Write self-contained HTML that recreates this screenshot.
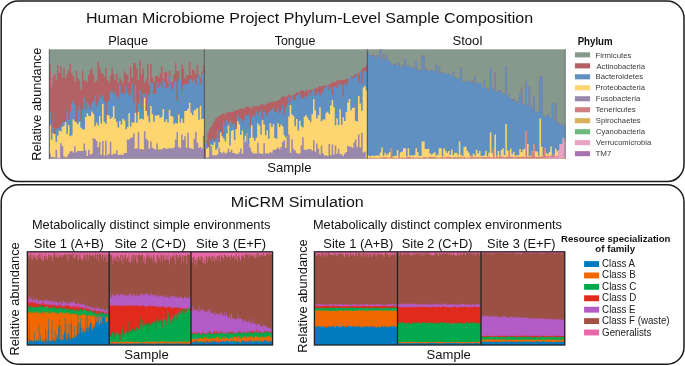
<!DOCTYPE html>
<html><head><meta charset="utf-8"><style>
html,body{margin:0;padding:0;background:#fff;width:685px;height:366px;overflow:hidden}
svg{display:block;will-change:transform}
text{font-family:"Liberation Sans",sans-serif}
</style></head><body>
<svg width="685" height="366" viewBox="0 0 685 366">
<rect width="685" height="366" fill="#fff"/>
<rect x="1.2" y="1.0" width="682.8" height="180.6" rx="17" ry="17" fill="none" stroke="#1a1a1a" stroke-width="1.5"/>
<rect x="1.2" y="184.7" width="682.8" height="179.6" rx="17" ry="17" fill="none" stroke="#1a1a1a" stroke-width="1.5"/>
<rect x="49.3" y="49.3" width="155.1" height="109.5" fill="#87988d"/>
<path d="M49.3 158.8V64.87H50.85V87.13H52.4V77.34H53.95V73.8H55.5V79.7H57.05V65.13H58.61V72.95H60.16V66.19H61.71V77.25H63.26V68.46H64.81V78.26H66.36V73.95H67.91V69.75H69.46V63.89H71.01V72.92H72.56V76.49H74.12V81.43H75.67V71.05H77.22V78.55H78.77V80.22H80.32V89.37H81.87V70.73H83.42V80.44H84.97V80.47H86.52V82.11H88.08V74.15H89.63V70.47H91.18V68.03H92.73V74.72H94.28V82.47H95.83V80.73H97.38V62.34H98.93V67.32H100.48V72.83H102.03V73.76H103.59V76.91H105.14V67.42H106.69V79.92H108.24V82.72H109.79V75.84H111.34V67.41H112.89V73.9H114.44V80.08H115.99V73.47H117.54V83.21H119.09V77.7H120.65V80.77H122.2V83.15H123.75V71.35H125.3V73.81H126.85V75.53H128.4V82.66H129.95V67.08H131.5V77.96H133.05V62.74H134.61V63.09H136.16V68.23H137.71V80.31H139.26V60.08H140.81V74.79H142.36V68.65H143.91V82.34H145.46V78.66H147.01V63.67H148.56V84.24H150.12V64.22H151.67V77.21H153.22V81.13H154.77V76.17H156.32V75.8H157.87V77.15H159.42V73.79H160.97V66.26H162.52V79.31H164.07V72.51H165.62V71.68H167.18V81.13H168.73V71.09H170.28V82.43H171.83V81.68H173.38V73.89H174.93V63.02H176.48V71.56H178.03V71.2H179.58V81.65H181.13V64.62H182.69V68.39H184.24V78.14H185.79V75.32H187.34V75.21H188.89V61.91H190.44V75.14H191.99V69.08H193.54V71.33H195.09V74.52H196.65V64.85H198.2V74.74H199.75V77.19H201.3V71.65H202.85V65.28H204.4V158.8 Z" fill="#b46165"/>
<path d="M49.3 158.8V111.63H50.85V124.06H52.4V127.46H53.95V134.07H55.5V128.05H57.05V128.92H58.61V127.44H60.16V125.6H61.71V122.89H63.26V121.12H64.81V122.08H66.36V110.79H67.91V119.17H69.46V112.34H71.01V103.68H72.56V101.11H74.12V104.42H75.67V122.26H77.22V110.64H78.77V106.31H80.32V120.74H81.87V109.64H83.42V97.35H84.97V109.15H86.52V102.35H88.08V105.31H89.63V108.47H91.18V103.27H92.73V101.46H94.28V95.68H95.83V105.58H97.38V101.13H98.93V95.01H100.48V98.51H102.03V95.45H103.59V100.64H105.14V120.08H106.69V102.05H108.24V99.73H109.79V91.85H111.34V90.77H112.89V94.15H114.44V92.74H115.99V96.37H117.54V98.89H119.09V84.79H120.65V93.37H122.2V92.55H123.75V94.17H125.3V86.34H126.85V92.22H128.4V95.82H129.95V95.06H131.5V83.92H133.05V102.52H134.61V84.4H136.16V114.96H137.71V102.88H139.26V90.14H140.81V108.24H142.36V93.76H143.91V93.87H145.46V110.91H147.01V93.7H148.56V95.4H150.12V82.77H151.67V83.34H153.22V94.06H154.77V93.87H156.32V82.33H157.87V87.82H159.42V83.84H160.97V87.74H162.52V80.21H164.07V82.45H165.62V88.53H167.18V87.29H168.73V76.18H170.28V84.75H171.83V89.38H173.38V81.57H174.93V80.93H176.48V100.89H178.03V78.15H179.58V81.77H181.13V89.51H182.69V85.02H184.24V83.91H185.79V84.32H187.34V84.17H188.89V79.57H190.44V79.02H191.99V81.28H193.54V79.36H195.09V84.52H196.65V76.89H198.2V74.74H199.75V84.23H201.3V74.43H202.85V72.35H204.4V158.8 Z" fill="#5f90c1"/>
<path d="M49.3 158.8V125.17H50.85V139.83H52.4V133.21H53.95V134.07H55.5V142.37H57.05V135.51H58.61V130.86H60.16V131.61H61.71V127.04H63.26V125.42H64.81V122.08H66.36V134.03H67.91V124.95H69.46V136.33H71.01V135.32H72.56V119.55H74.12V121.35H75.67V122.57H77.22V124.36H78.77V121.77H80.32V127.77H81.87V129.23H83.42V129.52H84.97V117.04H86.52V113.27H88.08V115.68H89.63V115.95H91.18V111.52H92.73V113.82H94.28V126.22H95.83V122.69H97.38V125.44H98.93V116.12H100.48V123.83H102.03V103.84H103.59V121.95H105.14V124.07H106.69V114.97H108.24V115.54H109.79V119H111.34V117.28H112.89V105.89H114.44V118.63H115.99V121.72H117.54V127.39H119.09V121.05H120.65V124.5H122.2V118.85H123.75V120.5H125.3V129.13H126.85V126.96H128.4V113.37H129.95V126.46H131.5V122.31H133.05V122.82H134.61V112.71H136.16V122.72H137.71V111.72H139.26V119.2H140.81V118.45H142.36V119.6H143.91V97.68H145.46V110.91H147.01V115.8H148.56V122.36H150.12V106.01H151.67V114.21H153.22V121.82H154.77V115.44H156.32V115.47H157.87V114.98H159.42V117.71H160.97V116.79H162.52V109.09H164.07V122.1H165.62V119.19H167.18V122.54H168.73V109.76H170.28V115.94H171.83V116.68H173.38V124.14H174.93V122.73H176.48V123.49H178.03V114.39H179.58V122.48H181.13V118.74H182.69V123.08H184.24V111.04H185.79V110.89H187.34V108.44H188.89V102.83H190.44V112.77H191.99V115.24H193.54V110.21H195.09V109.54H196.65V108.02H198.2V119.83H199.75V105.65H201.3V118.97H202.85V118.74H204.4V158.8 Z" fill="#fdd571"/>
<path d="M49.3 158.8V153.68H50.85V157.1H52.4V156.9H53.95V157.53H55.5V150.12H57.05V157.67H58.61V158.16H60.16V143.21H61.71V146.3H63.26V156.23H64.81V157.61H66.36V156.57H67.91V153.9H69.46V151.54H71.01V151.04H72.56V152.61H74.12V146.24H75.67V152.18H77.22V150.86H78.77V151H80.32V151.12H81.87V150.97H83.42V143.5H84.97V150.54H86.52V156.12H88.08V149.72H89.63V154.48H91.18V153.85H92.73V138.28H94.28V139.03H95.83V140.7H97.38V147.16H98.93V142.02H100.48V154.63H102.03V140.88H103.59V155.52H105.14V140.45H106.69V155.31H108.24V153.55H109.79V141.63H111.34V155.07H112.89V153.42H114.44V153.95H115.99V150.31H117.54V154.8H119.09V155.05H120.65V154.45H122.2V155H123.75V152.91H125.3V153H126.85V139.46H128.4V139.46H129.95V138.04H131.5V137.31H133.05V133.53H134.61V148.81H136.16V148.6H137.71V132.28H139.26V149.29H140.81V149.07H142.36V149.38H143.91V130.93H145.46V138.63H147.01V140.4H148.56V148.8H150.12V141.17H151.67V147.64H153.22V148.71H154.77V149.79H156.32V143.59H157.87V149.43H159.42V149.29H160.97V149.47H162.52V148.06H164.07V148.3H165.62V149.06H167.18V148.39H168.73V147.88H170.28V148.4H171.83V148.17H173.38V147.44H174.93V139.58H176.48V132.02H178.03V147.15H179.58V147.77H181.13V134.47H182.69V140.06H184.24V136.31H185.79V147.76H187.34V132.66H188.89V147.95H190.44V148.51H191.99V149.1H193.54V138.79H195.09V131.79H196.65V142.51H198.2V147.78H199.75V146.94H201.3V148.75H202.85V135.85H204.4V158.8 Z" fill="#9a88ac"/>
<path d="M49.3 158.8V158.8H204.4V158.8 Z" fill="#d8af5c"/>
<path d="M49.3 158.8V158.8H204.4V158.8 Z" fill="#a874b4"/>
<rect x="204.4" y="49.3" width="162.9" height="109.5" fill="#87988d"/>
<path d="M204.4 158.8V148.39H205.95V140.47H207.5V132.85H209.05V128.15H210.61V126.86H212.16V123.47H213.71V121.24H215.26V118.19H216.81V117.18H218.36V115.93H219.91V115.01H221.47V113.6H223.02V113.31H224.57V114.21H226.12V112.55H227.67V111.84H229.22V112.36H230.77V111.95H232.33V111.81H233.88V110.19H235.43V110.47H236.98V109.64H238.53V109.26H240.08V108.27H241.63V108.89H243.19V108.13H244.74V107.42H246.29V106.62H247.84V106.38H249.39V108.03H250.94V107.83H252.49V106.36H254.05V106.62H255.6V106.05H257.15V106H258.7V105.97H260.25V104.02H261.8V104.28H263.35V105.51H264.91V104.42H266.46V102.76H268.01V103.54H269.56V102.02H271.11V102.01H272.66V101.14H274.21V101.74H275.77V101.38H277.32V100H278.87V99.99H280.42V97.55H281.97V96.62H283.52V96.47H285.07V96.71H286.63V95.94H288.18V94.29H289.73V95.77H291.28V95.68H292.83V94.83H294.38V94.07H295.93V92.45H297.49V92.46H299.04V92.02H300.59V90.2H302.14V90.23H303.69V91.65H305.24V89.83H306.79V90.73H308.35V89.71H309.9V89.57H311.45V89.71H313V89.16H314.55V87.87H316.1V88.34H317.65V86.88H319.21V85.85H320.76V86.57H322.31V85.79H323.86V85.68H325.41V85.48H326.96V85.74H328.51V84.11H330.07V83.83H331.62V81.91H333.17V82.42H334.72V81.9H336.27V80.23H337.82V80.33H339.37V80.52H340.93V80.08H342.48V79.85H344.03V79.65H345.58V78.55H347.13V78.97H348.68V77.97H350.23V75.64H351.79V76.52H353.34V75.04H354.89V74.11H356.44V73.05H357.99V73.36H359.54V71.85H361.09V69.59H362.65V67.64H364.2V67.37H365.75V64.74H367.3V158.8 Z" fill="#b46165"/>
<path d="M204.4 158.8V156.81H205.95V142.15H207.5V147.54H209.05V139.52H210.61V141.65H212.16V137.99H213.71V139.88H215.26V138.23H216.81V129.89H218.36V142.06H219.91V130.56H221.47V134.97H223.02V121.64H224.57V126.18H226.12V119.99H227.67V122.94H229.22V121.07H230.77V123.01H232.33V124.13H233.88V123.09H235.43V128.96H236.98V115.21H238.53V118.56H240.08V118.86H241.63V121.57H243.19V119.9H244.74V114.97H246.29V115.58H247.84V114.72H249.39V127.28H250.94V118H252.49V115.37H254.05V116.54H255.6V111.14H257.15V115.66H258.7V111.68H260.25V110.37H261.8V119.12H263.35V110.96H264.91V112.71H266.46V116.01H268.01V112.31H269.56V111.07H271.11V109.51H272.66V108.29H274.21V111.88H275.77V112.08H277.32V108.4H278.87V113.43H280.42V110.77H281.97V105.06H283.52V114.5H285.07V106.95H286.63V103.9H288.18V96.96H289.73V101.61H291.28V95.68H292.83V100.28H294.38V99.84H295.93V95.68H297.49V94.62H299.04V93.65H300.59V97.92H302.14V99.1H303.69V95.71H305.24V98.16H306.79V96.13H308.35V91.83H309.9V95.27H311.45V91.29H313V89.56H314.55V95.53H316.1V93.48H317.65V91.79H319.21V95.43H320.76V93.68H322.31V91.28H323.86V87.65H325.41V86.95H326.96V85.85H328.51V90.08H330.07V87.02H331.62V95.31H333.17V86.65H334.72V86.32H336.27V87.82H337.82V83.32H339.37V85.46H340.93V84.26H342.48V96.78H344.03V83.69H345.58V85.09H347.13V81.62H348.68V77.97H350.23V75.64H351.79V78.5H353.34V77.27H354.89V77.26H356.44V73.41H357.99V82.43H359.54V71.85H361.09V84.09H362.65V71.56H364.2V70.78H365.75V72.18H367.3V158.8 Z" fill="#5f90c1"/>
<path d="M204.4 158.8V158.8H205.95V148.85H207.5V147.54H209.05V150.29H210.61V144.48H212.16V145.13H213.71V142.23H215.26V150.02H216.81V147.63H218.36V142.06H219.91V132.47H221.47V136.46H223.02V138.54H224.57V141.62H226.12V133.6H227.67V125.4H229.22V145.55H230.77V130.65H232.33V130.09H233.88V140.24H235.43V128.96H236.98V121.23H238.53V124.47H240.08V135.01H241.63V130.54H243.19V141.58H244.74V135.71H246.29V133.22H247.84V144.76H249.39V137.74H250.94V125.18H252.49V137.63H254.05V140.75H255.6V137.65H257.15V123.31H258.7V125.56H260.25V134.42H261.8V120.21H263.35V124.4H264.91V135.15H266.46V130.22H268.01V138.64H269.56V123.22H271.11V126.9H272.66V124.36H274.21V138.03H275.77V138.75H277.32V123.19H278.87V126.97H280.42V124.54H281.97V126.6H283.52V135.14H285.07V137.43H286.63V136.23H288.18V116.45H289.73V105.02H291.28V114.49H292.83V116.3H294.38V126.21H295.93V119.12H297.49V130.58H299.04V120.85H300.59V126.3H302.14V127.61H303.69V116.87H305.24V114.97H306.79V117.39H308.35V120.06H309.9V122.36H311.45V114.28H313V99.2H314.55V110.4H316.1V118.45H317.65V115.13H319.21V107.27H320.76V121.17H322.31V119.47H323.86V119.49H325.41V112.85H326.96V111.63H328.51V113.89H330.07V105.44H331.62V99.88H333.17V107.14H334.72V125.18H336.27V118.19H337.82V125.01H339.37V109.35H340.93V124.66H342.48V117.25H344.03V120.88H345.58V112.07H347.13V102.46H348.68V99.08H350.23V110.26H351.79V108.1H353.34V107.43H354.89V120.7H356.44V121.4H357.99V96.07H359.54V103.59H361.09V110.64H362.65V87.49H364.2V86.07H365.75V90.51H367.3V158.8 Z" fill="#fdd571"/>
<path d="M204.4 158.8V158.8H205.95V157.41H207.5V157.05H209.05V150.29H210.61V145.9H212.16V155.27H213.71V155.13H215.26V155.61H216.81V154.27H218.36V147.63H219.91V152.02H221.47V153.57H223.02V151.84H224.57V153.62H226.12V152.68H227.67V148.75H229.22V152.2H230.77V149.88H232.33V153.06H233.88V153.03H235.43V154.26H236.98V154.02H238.53V152.62H240.08V148.52H241.63V153.83H243.19V142.36H244.74V141.54H246.29V133.22H247.84V144.76H249.39V147.53H250.94V151.59H252.49V153.62H254.05V153.36H255.6V153.45H257.15V142.67H258.7V153.2H260.25V153.76H261.8V153.85H263.35V143.34H264.91V153.45H266.46V153.46H268.01V153.39H269.56V152.36H271.11V152.69H272.66V149.76H274.21V149.98H275.77V148.76H277.32V147.56H278.87V149.15H280.42V146.95H281.97V142.04H283.52V140.18H285.07V147.92H286.63V136.23H288.18V134.54H289.73V152.69H291.28V139.37H292.83V149.07H294.38V150.78H295.93V153.07H297.49V153.85H299.04V153.48H300.59V145.42H302.14V137.35H303.69V149.87H305.24V149.68H306.79V149.54H308.35V149.01H309.9V149.12H311.45V150.67H313V140.24H314.55V151.39H316.1V143.38H317.65V148.83H319.21V154.2H320.76V145.5H322.31V153.31H323.86V155.83H325.41V154.91H326.96V156H328.51V144.05H330.07V155.36H331.62V144.4H333.17V154.38H334.72V145.48H336.27V153.75H337.82V148.68H339.37V154.1H340.93V154.26H342.48V155.89H344.03V153.44H345.58V152.04H347.13V145.78H348.68V146.55H350.23V146.68H351.79V147.63H353.34V142.47H354.89V139.13H356.44V146.69H357.99V134.62H359.54V147.28H361.09V132.63H362.65V152.49H364.2V151.63H365.75V158.37H367.3V158.8 Z" fill="#9a88ac"/>
<path d="M204.4 158.8V158.8H367.3V158.8 Z" fill="#d8af5c"/>
<path d="M204.4 158.8V158.8H367.3V158.8 Z" fill="#a874b4"/>
<rect x="367.3" y="49.3" width="198.5" height="109.5" fill="#87988d"/>
<path d="M367.3 158.8V52.21H368.85V55.29H370.4V55H371.95V55.02H373.5V55.16H375.05V58.13H376.6V55.15H378.16V56.59H379.71V49.3H381.26V59.91H382.81V53.7H384.36V59.77H385.91V54.97H387.46V59.91H389.01V61.51H390.56V63.34H392.11V64.74H393.66V63.97H395.21V62.97H396.76V66.08H398.32V62.71H399.87V67.96H401.42V64.71H402.97V66.1H404.52V58.5H406.07V67.33H407.62V65.02H409.17V67.31H410.72V67.71H412.27V67.59H413.82V68.31H415.37V61.4H416.93V69.65H418.48V70.17H420.03V69.87H421.58V55.6H424.68V68.48H426.23V70.62H427.78V70.71H429.33V70.91H430.88V69.85H432.43V70.97H433.98V70.86H435.53V64.17H437.09V73.41H438.64V65.98H440.19V72.18H441.74V74.07H443.29V72.14H444.84V74.05H446.39V73.64H447.94V73.78H449.49V74.97H451.04V75.93H452.59V71.52H454.14V76.95H455.69V79.05H457.25V78.93H458.8V77.84H460.35V67H461.9V81.76H463.45V81.71H465V81.49H466.55V80.86H468.1V80.4H469.65V82.73H471.2V80.17H472.75V82.19H474.3V75.7H475.85V83.78H477.41V83.08H478.96V83.13H480.51V83.61H482.06V87.99H483.61V80.5H485.16V88.59H486.71V87.41H488.26V90.31H489.81V67H491.36V87.28H492.91V89.7H494.46V72H496.01V91.81H497.57V90.53H499.12V90.12H500.67V92.32H502.22V93.4H503.77V94.35H505.32V66H506.87V96.86H508.42V94.68H509.97V98.19H511.52V98.94H513.07V98.94H514.62V100.86H516.17V102.13H517.73V100.31H519.28V94H520.83V87.89H522.38V103.75H523.93V104.48H525.48V81.5H527.03V106.27H528.58V86.51H530.13V105.7H531.68V108.76H533.23V96H534.78V112.11H536.34V112.14H537.89V111.17H539.44V76.7H542.54V114.89H544.09V116.45H545.64V115.94H547.19V113.38H548.74V117.31H550.29V118.05H551.84V103.18H553.39V119.32H554.94V102.68H556.5V121.82H558.05V122.8H559.6V125.34H561.15V123.51H562.7V126.22H564.25V125.03H565.8V158.8 Z" fill="#b46165"/>
<path d="M367.3 158.8V52.21H368.85V55.29H370.4V55H371.95V55.77H373.5V55.16H375.05V58.13H376.6V55.15H378.16V56.59H379.71V49.3H381.26V59.91H382.81V54.53H384.36V59.77H385.91V54.97H387.46V59.91H389.01V61.51H390.56V63.34H392.11V64.74H393.66V64.85H395.21V62.97H396.76V66.08H398.32V62.71H399.87V67.96H401.42V64.71H402.97V66.1H404.52V58.5H406.07V67.33H407.62V65.02H409.17V67.31H410.72V67.71H412.27V67.59H413.82V68.31H415.37V61.4H416.93V70.46H418.48V70.17H420.03V69.87H421.58V55.6H423.13V56.38H424.68V69.36H426.23V70.62H427.78V70.71H429.33V70.91H430.88V69.85H432.43V70.97H433.98V70.86H435.53V64.17H437.09V73.41H438.64V65.98H440.19V72.18H441.74V74.07H443.29V72.14H444.84V74.05H446.39V73.64H447.94V73.78H449.49V74.97H451.04V75.93H452.59V71.52H454.14V77.72H455.69V79.05H457.25V78.93H458.8V77.84H460.35V67.73H461.9V81.76H463.45V81.71H465V81.49H466.55V80.86H468.1V80.4H469.65V82.73H471.2V81.02H472.75V82.97H474.3V75.7H475.85V83.78H477.41V83.08H478.96V83.13H480.51V83.61H482.06V87.99H483.61V80.5H485.16V88.59H486.71V87.41H488.26V90.31H489.81V67H491.36V87.28H492.91V90.56H494.46V72H496.01V91.81H497.57V90.53H499.12V91.01H500.67V92.32H502.22V93.4H503.77V94.35H505.32V66H506.87V96.86H508.42V94.68H509.97V98.19H511.52V99.73H513.07V99.84H514.62V100.86H516.17V102.9H517.73V100.31H519.28V94H520.83V87.89H522.38V103.75H523.93V104.48H525.48V81.5H527.03V106.27H528.58V86.51H530.13V105.7H531.68V108.76H533.23V96H534.78V112.11H536.34V112.14H537.89V111.17H539.44V76.7H542.54V114.89H544.09V116.45H545.64V115.94H547.19V113.38H548.74V117.31H550.29V118.05H551.84V103.18H553.39V120.22H554.94V102.68H556.5V121.82H558.05V123.56H559.6V125.34H561.15V123.51H562.7V126.22H564.25V125.03H565.8V158.8 Z" fill="#5f90c1"/>
<path d="M367.3 158.8V155.35H368.85V156.26H370.4V155.92H371.95V155.41H373.5V156.33H375.05V155.38H376.6V155.54H378.16V155.58H379.71V152.61H381.26V147.56H382.81V155.85H384.36V152.67H385.91V155.35H387.46V153.38H389.01V152H390.56V148.29H392.11V156.54H393.66V156.25H395.21V155.68H396.76V149.98H398.32V155.68H399.87V152.13H401.42V151.5H402.97V148.3H406.07V156.27H407.62V148.29H409.17V155.81H410.72V155.28H412.27V155.59H413.82V154.95H415.37V148.3H416.93V152.12H418.48V155.85H420.03V156.08H421.58V141.5H424.68V148.95H426.23V149H427.78V148.74H429.33V153.53H430.88V154.76H432.43V153.37H433.98V152.17H435.53V155.42H437.09V154.65H438.64V148.3H441.74V156.48H443.29V148.3H444.84V150.73H446.39V152.93H447.94V151.04H449.49V154.68H451.04V149.55H452.59V154.97H454.14V152.65H455.69V152.82H457.25V154.85H458.8V141.5H460.35V154.67H461.9V156.08H463.45V146.8H466.55V150.68H468.1V152.67H469.65V156.29H471.2V155.06H472.75V153.38H474.3V155.51H475.85V149.85H477.41V153.62H478.96V151.06H480.51V156.09H482.06V156.05H483.61V155.32H485.16V150.69H486.71V156.19H488.26V152.65H489.81V132.3H491.36V152.96H492.91V147.99H494.46V134.6H496.01V155.32H497.57V150.93H499.12V155.15H500.67V150.08H502.22V148.15H503.77V155.26H505.32V124H506.87V150.58H508.42V151.46H509.97V148.51H511.52V154.28H513.07V151.66H514.62V155.42H516.17V155.18H517.73V155.3H519.28V149.25H520.83V152.2H522.38V149.51H523.93V148.63H525.48V131.5H527.03V143.7H528.58V155.97H530.13V155.13H531.68V151.22H533.23V144.5H534.78V151.16H536.34V151.55H537.89V155.63H539.44V118.5H540.99V146.67H542.54V155.36H544.09V148.28H545.64V153.02H547.19V154.31H548.74V152.1H550.29V146.42H551.84V155.8H553.39V154.15H554.94V148.39H556.5V151.31H558.05V150H559.6V144H562.7V138H564.25V141H565.8V158.8 Z" fill="#fdd571"/>
<path d="M367.3 158.8V158H368.85V157.62H370.4V158.04H371.95V157.5H373.5V158H375.05V157.66H376.6V158.01H378.16V157.68H379.71V157.58H381.26V157.57H382.81V157.36H384.36V157.31H385.91V157.22H387.46V157.71H389.01V157.69H390.56V148.29H392.11V157.53H393.66V157.98H395.21V157.63H396.76V158H398.32V155.68H399.87V157.66H401.42V157.6H402.97V157.42H404.52V157.81H406.07V156.98H407.62V157H409.17V156.98H410.72V157.75H412.27V157.03H413.82V157.93H415.37V157.97H416.93V157.21H418.48V157.68H420.03V157.83H421.58V157.68H423.13V157.05H424.68V157.24H426.23V157.43H427.78V157.57H429.33V156.86H430.88V157.07H432.43V156.9H433.98V156.99H435.53V157.45H437.09V157.54H438.64V157.81H440.19V157.57H441.74V157.26H443.29V157.23H444.84V157.44H446.39V156.75H447.94V156.74H449.49V157.04H451.04V157.86H452.59V157.27H454.14V157.09H455.69V157.62H457.25V156.71H458.8V157.55H460.35V156.85H461.9V157.61H463.45V156.76H465V157.65H466.55V157.53H468.1V157.76H469.65V157.21H471.2V155.06H472.75V157.54H474.3V157.05H475.85V157.25H477.41V157.13H478.96V157.35H480.51V156.92H482.06V157.07H483.61V157.1H485.16V157.2H486.71V157.3H488.26V156.85H489.81V157.25H491.36V157.63H492.91V147.99H494.46V157.55H496.01V155.32H497.57V157.54H499.12V155.15H500.67V156.77H502.22V156.69H503.77V157.4H505.32V156.8H508.42V151.46H509.97V156.75H511.52V156.5H513.07V157.17H514.62V156.49H516.17V156.88H517.73V156.64H519.28V157.32H520.83V156.64H522.38V156.4H523.93V157.15H525.48V131.5H527.03V157.1H528.58V156.69H530.13V156.31H531.68V151.8H533.23V144.5H534.78V156.54H536.34V157.07H537.89V156.7H539.44V156.45H540.99V156.71H542.54V155.36H544.09V148.28H545.64V156.28H547.19V155.74H548.74V155.76H550.29V155.8H553.39V154.15H554.94V156.69H556.5V155.86H558.05V150H559.6V144H562.7V138H564.25V141H565.8V158.8 Z" fill="#d08081"/>
<path d="M367.3 158.8V158.14H368.85V158.4H370.4V158.55H371.95V158.17H373.5V158.39H375.05V158.02H376.6V158.35H378.16V158.1H379.71V158.33H381.26V157.98H382.81V158.41H384.36V158.33H385.91V158.23H387.46V158.23H389.01V158.17H390.56V158.49H392.11V158.16H393.66V158.3H395.21V158.1H396.76V158.44H398.32V158.02H399.87V158.16H401.42V158.17H402.97V158.26H404.52V158.21H406.07V157.93H407.62V158.33H409.17V158.49H410.72V158.14H412.27V158.37H413.82V158.18H415.37V158.34H416.93V158H418.48V158.15H420.03V158.02H421.58V157.96H423.13V158.47H424.68V158.35H426.23V158.19H427.78V158.45H429.33V158.34H430.88V158.1H432.43V158.32H433.98V158.22H435.53V158.47H437.09V158.19H438.64V158.35H440.19V158.39H441.74V158.16H443.29V158.05H444.84V157.87H446.39V157.96H447.94V157.99H449.49V158.13H451.04V157.86H452.59V158.4H455.69V158.01H457.25V158.3H458.8V158.06H460.35V158.19H461.9V157.95H463.45V157.97H465V158.32H466.55V158.22H468.1V158.35H469.65V158.06H471.2V157.98H472.75V158.4H474.3V157.98H475.85V157.84H478.96V158.35H480.51V157.81H482.06V157.9H483.61V157.89H485.16V157.96H486.71V158.34H488.26V157.94H489.81V157.79H491.36V158.33H492.91V158.1H494.46V157.89H496.01V158.22H497.57V157.88H499.12V158.25H500.67V157.99H502.22V158.06H503.77V158.08H505.32V157.98H506.87V158.15H508.42V158.31H509.97V158.28H511.52V157.98H513.07V157.17H514.62V157.8H516.17V158.33H517.73V158.28H520.83V157.88H522.38V158.09H523.93V158.07H525.48V158.15H527.03V158.02H528.58V158.22H530.13V158.05H531.68V158H533.23V157.9H534.78V157.84H536.34V158.16H537.89V158.18H539.44V158.2H540.99V158.05H542.54V158.01H544.09V157.65H545.64V157.59H547.19V157.42H548.74V155.76H550.29V157.43H551.84V157.25H553.39V157.31H554.94V157.34H556.5V157.23H558.05V150H559.6V144H562.7V138H564.25V141H565.8V158.8 Z" fill="#e6a3c3"/>
<path d="M367.3 158.8V158.39H368.85V158.5H370.4V158.55H371.95V158.35H373.5V158.54H375.05V158.6H376.6V158.49H378.16V158.44H381.26V158.43H382.81V158.41H384.36V158.35H385.91V158.24H387.46V158.25H389.01V158.32H390.56V158.49H392.11V158.23H393.66V158.5H395.21V158.39H396.76V158.45H398.32V158.23H399.87V158.33H401.42V158.45H402.97V158.26H404.52V158.53H406.07V158.51H407.62V158.58H409.17V158.49H410.72V158.34H412.27V158.41H413.82V158.27H415.37V158.54H416.93V158.39H418.48V158.58H420.03V158.27H421.58V158.32H423.13V158.47H424.68V158.47H426.23V158.49H427.78V158.45H429.33V158.5H430.88V158.36H432.43V158.32H433.98V158.3H435.53V158.47H437.09V158.28H438.64V158.35H440.19V158.57H441.74V158.22H443.29V158.5H444.84V158.51H446.39V158.22H447.94V158.39H449.49V158.32H451.04V158.24H452.59V158.4H454.14V158.5H455.69V158.49H457.25V158.3H458.8V158.36H460.35V158.29H461.9V158.23H463.45V158.45H465V158.42H466.55V158.29H468.1V158.44H469.65V158.57H471.2V158.34H472.75V158.55H474.3V158.55H475.85V158.51H477.41V158.24H478.96V158.35H480.51V158.56H482.06V158.47H483.61V158.41H485.16V158.56H486.71V158.35H488.26V158.23H489.81V158.58H491.36V158.6H492.91V158.24H494.46V158.6H496.01V158.43H497.57V158.54H499.12V158.47H500.67V158.34H502.22V158.34H503.77V158.45H505.32V158.42H506.87V158.43H508.42V158.49H509.97V158.28H511.52V158.37H513.07V158.37H514.62V158.21H516.17V158.41H517.73V158.5H519.28V158.28H520.83V158.48H522.38V158.5H523.93V158.56H525.48V158.49H527.03V158.53H528.58V158.32H530.13V158.24H531.68V158.4H533.23V158.25H534.78V158.52H536.34V158.47H537.89V158.42H539.44V158.35H540.99V158.42H542.54V158.38H544.09V158.24H545.64V158.37H547.19V158.31H548.74V158.43H550.29V158.57H551.84V158.32H553.39V158.4H554.94V158.36H556.5V158.58H558.05V158.3H559.6V158.29H561.15V158.36H562.7V158.56H564.25V158.38H565.8V158.8 Z" fill="#d8af5c"/>
<rect x="27.3" y="251.8" width="81.9" height="93.2" fill="#e968ab"/>
<path d="M27.3 345V260.47H27.8V253.36H28.3V255.36H28.8V257.21H29.3V258.01H29.8V253.77H30.3V254.48H30.8V253.44H31.3V259.12H31.79V253.68H32.29V259.91H32.79V255.47H33.29V257.46H33.79V253.91H34.29V257.94H34.79V254.44H35.29V257.8H35.79V256.37H36.29V259.35H36.79V260.49H37.29V254.44H37.79V255.32H38.29V254.71H38.79V258.03H39.29V253.52H39.78V253.65H40.28V258.18H40.78V253.98H41.28V258.63H41.78V260.69H42.28V253.29H42.78V261.32H43.28V259.51H43.78V256.75H44.28V255.98H44.78V253.65H45.28V258.98H45.78V253.77H46.28V255.98H46.78V260.33H47.28V259.01H47.78V256.2H48.27V253.99H48.77V254.49H49.27V257.59H49.77V255.38H50.27V255.29H50.77V254.85H51.27V255.98H51.77V257.4H52.27V261.35H52.77V253.32H53.27V256.35H53.77V253.69H54.27V253.35H54.77V253.83H55.27V256.71H55.77V254.75H56.26V256.88H56.76V253.84H57.26V257.71H57.76V257.39H58.26V254.36H58.76V257.32H59.26V253.96H59.76V255.21H60.26V256.19H60.76V253.96H61.26V257.3H61.76V254.94H62.26V257.06H62.76V255.34H63.26V255.05H63.76V254.44H64.25V254.11H64.75V254.73H65.25V254.08H65.75V255.47H66.25V254.34H66.75V259.08H67.25V254.1H67.75V253.85H68.25V261.7H68.75V254.17H69.25V253.46H69.75V254.6H70.25V254.91H70.75V254.09H71.25V255.2H71.75V254.1H72.25V253.46H72.74V257.12H73.24V253.56H73.74V258.72H74.24V254.34H74.74V258.41H75.24V256.34H75.74V254.62H76.24V254.54H76.74V254.12H77.24V254.82H77.74V259.7H78.24V259.82H78.74V253.57H79.24V254.48H79.74V257.51H80.24V253.44H80.73V257.76H81.23V261.04H81.73V257.41H82.23V259.04H82.73V260.13H83.23V253.42H83.73V254.51H84.23V255.41H84.73V257.7H85.23V253.38H85.73V255.19H86.23V260.52H86.73V254.25H87.23V253.62H87.73V255.06H88.23V259.89H88.73V254.68H89.22V254.02H89.72V256.3H90.22V254.15H90.72V254.23H91.22V256.3H91.72V255.89H92.22V253.87H92.72V255.24H93.22V254.82H93.72V255.53H94.22V258.26H94.72V254.55H95.22V253.54H95.72V254.8H96.22V259.57H96.72V254.37H97.21V253.85H97.71V253.52H98.21V261.78H98.71V253.75H99.21V253.83H99.71V255.24H100.21V253.71H100.71V254.36H101.21V258.42H101.71V254.25H102.21V254.64H102.71V254.22H103.21V260.57H103.71V254.7H104.21V254.11H104.71V257.48H105.2V256.48H105.7V253.96H106.2V262.24H106.7V254.92H107.2V260.75H107.7V254.54H108.2V254.67H108.7V254.32H109.2V345 Z" fill="#9b5044"/>
<path d="M27.3 345V299.41H27.8V300.55H28.3V297.58H28.8V299.5H29.3V299.35H29.8V297.81H30.3V296.48H30.8V299.53H31.3V297.8H31.79V300.19H32.29V300.92H32.79V296.26H33.29V298.6H33.79V299.4H34.29V300.24H34.79V300.32H35.29V301.41H35.79V298.82H36.29V298.87H36.79V298.71H37.29V299.73H37.79V301.4H38.29V300.76H38.79V300.62H39.29V300.85H39.78V298.91H40.28V300.17H40.78V300.15H41.28V301.04H41.78V301.76H42.28V300.78H42.78V300.68H43.28V300.93H43.78V299.82H44.28V300.79H44.78V300.64H45.28V298.8H45.78V299.96H46.28V302.09H46.78V300.1H47.28V299.86H47.78V301.93H48.27V300.14H48.77V301.1H49.27V300.54H49.77V301.62H50.27V302.62H50.77V299.83H51.27V301.55H51.77V300.72H52.27V301.76H52.77V300.5H53.27V301.21H53.77V302.5H54.27V301.51H54.77V302.8H55.27V301.69H55.77V300.65H56.26V302.12H56.76V301.9H57.26V302.82H57.76V303.65H58.26V302.33H58.76V302.8H59.26V303.63H59.76V301.84H60.26V301.29H60.76V302.86H61.26V301.28H61.76V303.97H62.26V303.65H62.76V300.46H63.26V301.38H63.76V301.66H64.25V302.87H64.75V301.32H65.25V302.72H65.75V303.3H66.25V302.17H66.75V302.69H67.25V301.64H67.75V304.12H68.25V304.07H68.75V302.21H69.25V303.79H69.75V301.91H70.25V301.78H70.75V302.92H71.25V301.66H71.75V302.67H72.25V302.38H72.74V302.39H73.24V299.69H73.74V300.99H74.24V302.54H74.74V303.77H75.24V303.65H75.74V303.91H76.24V303.64H76.74V304.82H77.24V303.44H77.74V303.52H78.24V303.72H78.74V302.98H79.24V303.41H79.74V305.58H80.24V304.22H80.73V303.65H81.23V303.15H81.73V304.74H82.23V303.96H82.73V303.88H83.23V305.3H83.73V303.45H84.23V304.92H84.73V304.01H85.23V306.47H85.73V307.3H86.23V305.78H86.73V305.12H87.23V306.78H87.73V305.19H88.23V305.88H88.73V306.33H89.22V307.39H89.72V307.06H90.22V308.16H90.72V306.03H91.22V307.9H91.72V307.29H92.22V307.4H92.72V307.34H93.22V308.76H93.72V308.3H94.22V308.55H94.72V308.83H95.22V306.87H95.72V308.27H96.22V308.57H96.72V306.9H97.21V308.35H97.71V308.81H98.21V308.43H98.71V306.91H99.21V307.6H99.71V308.83H100.21V310.37H100.71V310.13H101.21V309.1H101.71V309.38H102.21V308.84H102.71V307.44H103.21V309.04H103.71V310.21H104.21V310.05H104.71V309.45H105.2V309.96H105.7V311.35H106.2V308.42H106.7V308.92H107.2V309.92H107.7V311.03H108.2V310.49H108.7V310.6H109.2V345 Z" fill="#b45cc6"/>
<path d="M27.3 345V302.76H27.8V301.27H28.3V301.28H28.8V304.03H29.3V302.35H29.8V303.49H30.3V301.85H30.8V302.14H31.3V302.02H31.79V302.73H32.29V302.03H32.79V302.21H33.29V303.14H33.79V302.65H34.29V301.7H34.79V303.75H35.29V302.9H35.79V304.55H36.29V301.89H36.79V303.74H37.29V304.14H37.79V303.91H38.29V302.84H38.79V304.21H39.29V303.8H39.78V304.07H40.28V304.65H40.78V304.61H41.28V302.78H41.78V302.46H42.28V304.47H42.78V302.54H43.28V303.41H43.78V303.79H44.28V302.6H44.78V304.97H45.28V304.41H45.78V303.75H46.28V304.97H46.78V305.09H47.28V304.57H47.78V304.62H48.27V305.11H48.77V304.01H49.27V304.29H49.77V305.65H50.27V304.89H50.77V304.79H51.27V305.85H51.77V303.24H52.27V304.93H52.77V303.67H53.27V305.08H53.77V305.8H54.27V306.06H54.77V303.71H55.27V305.07H55.77V305.68H56.26V306.28H56.76V305.48H57.26V305.9H57.76V305.22H58.26V305.65H58.76V304.18H59.26V305.05H59.76V304.98H60.26V306.39H60.76V304.15H61.26V305.84H61.76V305.45H62.26V306.45H62.76V306.94H63.26V306.39H63.76V304.92H64.25V305.66H64.75V306.61H65.25V306.64H65.75V305.21H66.25V304.78H66.75V304.81H67.25V305.92H67.75V304.7H68.25V306.44H68.75V305.69H69.25V305.33H69.75V306.07H70.25V306.89H70.75V306.41H71.25V307.8H71.75V307.04H72.25V306.67H72.74V306.01H73.24V307.88H73.74V305.71H74.24V305.77H74.74V307.76H75.24V306.37H75.74V306.77H76.24V305.77H76.74V308.16H77.24V305.86H77.74V308.35H78.24V306.27H78.74V306.72H79.24V307.89H79.74V306.59H80.24V307.49H80.73V307.59H81.23V307.94H81.73V306.73H82.23V306.97H82.73V307.86H83.23V308.8H83.73V307.17H84.23V309.52H84.73V309.41H85.23V307.67H85.73V307.3H86.23V309.62H86.73V308.23H87.23V308.25H87.73V308.6H88.23V309.16H88.73V308.2H89.22V309.01H89.72V310.77H90.22V309.93H90.72V309.6H91.22V310.34H91.72V309.2H92.22V311.27H92.72V311.03H93.22V309.45H93.72V310.67H94.22V311.73H94.72V309.8H95.22V309.56H95.72V310.45H96.22V311.43H96.72V312.2H97.21V310H97.71V310.82H98.21V311.41H98.71V310.39H99.21V310.96H99.71V311.31H100.21V311.55H100.71V311.85H101.21V312.84H101.71V311.25H102.21V311.54H102.71V311.88H103.21V311.01H103.71V311.65H104.21V313.18H104.71V311.46H105.2V313.63H105.7V311.54H106.2V312.91H106.7V313.15H107.2V311.26H107.7V313.54H108.2V311.09H108.7V311.44H109.2V345 Z" fill="#df2a1c"/>
<path d="M27.3 345V305.13H27.8V307.39H28.3V305.96H28.8V307.48H29.3V307.4H29.8V305.5H30.3V306.33H30.8V307.51H31.3V305.54H31.79V307.53H32.29V306.94H32.79V306.86H33.29V307.3H33.79V306.55H34.29V307.52H35.29V307.23H35.79V307.51H36.29V306.75H36.79V305.66H37.29V307.68H37.79V307.81H38.29V307.52H38.79V305.25H39.29V307.06H39.78V305.75H40.28V305.52H40.78V307.53H41.28V307.84H41.78V306.58H42.28V305.77H42.78V306.02H43.28V307.79H43.78V307.15H44.28V306.98H44.78V306.84H45.28V306.43H45.78V306.6H46.28V306.23H46.78V305.98H47.28V305.7H47.78V306.22H48.27V308.51H48.77V307.46H49.27V305.87H49.77V308.12H50.27V308.06H50.77V307.7H51.27V307.8H51.77V306.59H52.27V308.36H52.77V307.52H53.27V307.75H53.77V308.32H54.27V306.95H54.77V308.06H55.27V307.53H55.77V308.15H56.26V309H56.76V308.03H57.26V308.27H57.76V308.66H58.26V307.45H58.76V307.66H59.26V308.95H59.76V307.83H60.26V307.58H60.76V308.37H61.26V307.57H61.76V308.43H62.26V309.46H62.76V308.06H63.26V307.56H63.76V309.11H64.25V307.87H64.75V308.26H65.25V309.23H65.75V308.77H66.25V308.66H66.75V309.68H67.25V309.41H67.75V308.51H68.25V308.31H68.75V310.18H69.25V308.7H69.75V309.05H70.25V310.41H70.75V309.92H71.25V309.2H71.75V308.72H72.25V309.41H72.74V310.39H73.24V309.77H73.74V309.05H74.24V310.69H74.74V310.45H75.24V308.25H75.74V309.55H76.24V310.73H76.74V308.5H77.24V310.77H77.74V311.05H78.24V310.82H78.74V310.92H79.24V308.99H79.74V309.32H80.24V308.65H80.73V309.09H81.23V309.63H81.73V310.9H82.23V310.44H82.73V310.12H83.23V309.67H83.73V309.81H84.23V309.52H84.73V309.68H85.23V310.08H85.73V310.6H86.23V310.63H86.73V310.91H87.23V309.8H87.73V311.99H88.23V310.09H88.73V312.01H89.22V312.55H89.72V311.05H90.22V310.56H90.72V310.87H91.22V310.57H91.72V310.66H92.22V311.7H92.72V313.24H93.22V312.77H93.72V312.53H94.22V313.36H94.72V311.84H95.22V312.5H95.72V313.33H96.22V313.16H96.72V314.23H97.21V311.72H97.71V312.56H98.21V314.02H98.71V313.63H99.21V312.19H99.71V312.22H100.21V314.48H100.71V312.27H101.21V314.48H101.71V313.49H102.21V312.68H102.71V312.46H103.21V315.21H103.71V312.97H104.21V314.23H104.71V314.17H105.2V314.56H105.7V314.86H106.2V313.23H106.7V313.91H107.2V312.66H107.7V313.54H108.2V313.53H108.7V312.92H109.2V345 Z" fill="#02aa4d"/>
<path d="M27.3 345V311.84H27.8V313.13H28.3V311.68H28.8V312.81H29.3V312.85H29.8V310.74H30.3V311.77H30.8V312.78H31.3V312.71H31.79V311.92H32.29V313.22H32.79V311.32H33.29V312.34H33.79V311.01H34.29V312.62H34.79V312.74H35.29V313.11H35.79V312.75H36.29V312.08H36.79V311.22H37.29V313.23H37.79V311.56H38.29V313.55H38.79V311.2H39.29V313.1H39.78V311.62H40.28V313.48H40.78V313.53H41.28V313.65H41.78V312.47H42.28V311.36H42.78V312.43H43.28V313.5H43.78V311.07H44.28V312.17H44.78V311.92H45.28V312.04H45.78V312.22H46.28V313.16H46.78V311.77H47.28V311.68H47.78V311.32H48.27V313.73H48.77V311.19H49.27V313.66H49.77V311.9H50.27V313.33H50.77V311.85H51.27V313.17H51.77V312.28H52.27V311.45H52.77V312.96H53.27V312.05H53.77V311.41H54.27V312.75H54.77V312.57H55.27V313.49H55.77V312.33H56.26V313.79H56.76V313.11H57.26V313.51H57.76V313.95H58.26V313.55H58.76V313.43H59.26V312.26H59.76V311.96H60.26V311.49H60.76V313.65H61.26V312.07H61.76V313.49H62.26V314.16H62.76V311.96H63.26V311.68H63.76V313.18H64.25V314.01H64.75V313.02H65.25V313.25H65.75V311.99H66.25V312.89H66.75V312.17H67.25V312.61H67.75V313.65H68.25V312.77H68.75V313.34H69.25V314.17H69.75V313.69H70.25V314.14H70.75V314.29H71.25V314.04H71.75V314.69H72.25V313.71H72.74V312.87H73.24V313.11H73.74V313.9H74.24V314.04H74.74V313.56H75.24V314.5H75.74V313.63H76.24V315.28H76.74V314.85H77.24V314.97H77.74V314.06H78.24V315.58H78.74V315.28H79.24V313.41H79.74V315.55H80.24V314.69H80.73V315.57H81.23V314.96H81.73V313.65H82.23V314.66H82.73V314.57H83.23V313.81H83.73V313.92H84.23V314.91H84.73V314.71H85.23V315.23H85.73V315.57H86.23V316.01H86.73V316.67H87.23V314.47H87.73V316.06H88.23V315.21H88.73V314.9H89.22V314.88H89.72V316.19H90.22V315.58H90.72V316.32H91.22V315.62H91.72V315.57H92.22V316.24H92.72V315.73H93.22V315.35H93.72V317.05H94.22V315.2H94.72V315.69H95.22V316.97H95.72V315.55H96.22V317.2H96.72V315.28H97.21V315.73H97.71V317.21H98.21V315.41H98.71V315.79H99.21V315.57H99.71V316.63H100.21V317.15H100.71V315.74H101.21V317.94H101.71V316.24H102.21V316.17H102.71V316.67H103.21V316.49H103.71V316.32H104.21V316.76H104.71V316.97H105.2V316.27H105.7V317.24H106.2V317.71H106.7V316.16H107.2V316.47H107.7V318.3H108.2V316.44H108.7V318.22H109.2V345 Z" fill="#f16800"/>
<path d="M27.3 345V341.88H27.8V341.93H28.3V342.48H28.8V338.97H29.3V320.83H29.8V340.89H30.3V340.44H30.8V340.76H31.3V339.39H31.79V341.53H32.29V340.38H32.79V342.24H33.29V340.59H33.79V340.81H34.29V331.36H34.79V341.8H35.29V341.38H35.79V340.81H36.29V340.31H36.79V342.32H37.29V340.74H37.79V340.07H38.29V339.72H38.79V324.28H39.29V342.38H39.78V340.52H40.28V334.63H40.78V340.83H41.28V342.35H41.78V341.71H42.28V340.93H42.78V340.23H43.28V339.96H43.78V342.23H44.28V342.17H44.78V339.85H45.28V327.36H45.78V338.08H46.28V341.65H46.78V339.78H47.28V341.22H47.78V330.31H48.27V319.02H48.77V341.22H49.27V341.5H49.77V341.81H50.27V340.27H50.77V341.87H51.27V341.3H51.77V320.35H52.27V340.73H52.77V339.06H53.27V339.87H53.77V341.76H54.27V341.55H54.77V330.68H55.27V340.24H55.77V339.41H56.26V334.98H56.76V339.62H57.26V335.6H57.76V338.08H58.26V326.67H58.76V326.24H59.26V319.35H59.76V339.9H60.26V339.7H60.76V324.43H61.26V340.35H61.76V340.13H62.26V339.88H62.76V334.51H63.26V339.24H63.76V334.64H64.25V331.44H64.75V317.59H65.25V333.63H65.75V323.57H66.25V340.44H66.75V339.15H67.25V333.72H67.75V338.14H68.25V334.22H68.75V322.98H69.25V336.01H69.75V339.53H70.25V339.16H70.75V324.21H71.25V319.4H71.75V338.12H72.25V337.71H72.74V338.36H73.24V338.38H73.74V336.62H74.24V326.31H74.74V336.85H75.24V337.97H75.74V335.15H76.24V336.72H76.74V334.82H77.24V325.39H77.74V315.04H78.24V334.23H78.74V322.69H79.24V333.78H79.74V323.47H80.24V317.56H80.73V328.09H81.23V334.42H81.73V326.95H82.23V331.73H82.73V332.19H83.23V327.73H83.73V333.03H84.23V333.02H84.73V329.96H85.23V331.01H85.73V317.47H86.23V328H86.73V331.65H87.23V314.47H87.73V327.38H88.23V327.55H88.73V330.9H89.22V326.48H89.72V318.41H90.22V323.62H90.72V323.69H91.22V322.69H91.72V330.06H92.22V329.98H92.72V327.69H93.22V326.65H93.72V324.34H94.22V327.96H94.72V326.35H95.22V316.97H95.72V322.71H96.22V321.91H96.72V315.67H97.21V326.64H97.71V320.92H98.21V315.41H98.71V324.31H99.21V324.8H99.71V325.05H100.21V321.02H100.71V316.8H101.21V322.58H101.71V324.01H102.21V316.17H102.71V316.67H103.21V318.11H103.71V316.32H104.21V316.76H104.71V316.97H105.2V322.54H105.7V322.9H106.2V321.2H106.7V322H107.2V321.95H107.7V319.73H108.2V316.44H108.7V318.22H109.2V345 Z" fill="#017bbf"/>
<rect x="109.2" y="251.8" width="81.8" height="93.2" fill="#e968ab"/>
<path d="M109.2 345V259.01H109.7V254.37H110.2V253.99H110.7V255.17H111.2V255.25H111.69V255.04H112.19V259.51H112.69V264.38H113.19V255.56H113.69V257.57H114.19V260.07H114.69V256.38H115.19V258.53H115.68V261.4H116.18V256.2H116.68V254.82H117.18V256.52H117.68V261.65H118.18V254.83H118.68V257.05H119.18V258.46H119.67V260.95H120.17V255.34H120.67V255.01H121.17V261.05H121.67V254.29H122.17V255.12H122.67V264.26H123.17V257.92H123.66V255.36H124.16V258.48H124.66V254.36H125.16V254.4H125.66V254.39H126.16V260.6H126.66V258.27H127.16V257.72H127.65V256.67H128.15V254.11H128.65V261.51H129.15V262.48H129.65V256.19H130.15V263.19H130.65V260.98H131.15V254.28H131.65V258.07H132.14V255.21H132.64V262.77H133.14V254.07H133.64V255.2H134.14V259.74H134.64V254.8H135.14V254.91H135.64V256.58H136.13V263.53H136.63V254.28H137.13V262.39H137.63V254.9H138.13V254.41H138.63V255.23H139.13V254.54H139.63V254.28H140.12V256.66H140.62V255.51H141.12V255.05H141.62V255.34H142.12V254.24H142.62V254.54H143.12V262.09H143.62V257.23H144.11V255.91H144.61V263.88H145.11V259.37H145.61V263.27H146.11V253.98H146.61V257.58H147.11V255.92H147.61V254.07H148.1V255.03H148.6V258.45H149.1V257.34H149.6V254.25H150.1V258.34H150.6V256.54H151.1V254.96H151.6V258.89H152.1V261H152.59V257.49H153.09V255.26H153.59V254.36H154.09V256.4H154.59V262.34H155.09V260.48H155.59V262.41H156.09V263.22H156.58V255.37H157.08V254.44H157.58V256.32H158.08V260.05H158.58V254.67H159.08V257.67H159.58V258.39H160.08V261.31H160.57V255.11H161.07V254.08H161.57V255.51H162.07V261.67H162.57V254.17H163.07V255.67H163.57V258H164.07V254.48H164.56V260.59H165.06V255.59H165.56V260.18H166.06V254.53H166.56V259.19H167.06V255.22H167.56V260.12H168.06V260.85H168.55V254.16H169.05V264.1H169.55V259.22H170.05V255.4H170.55V255.7H171.05V258.83H171.55V257.54H172.05V256.34H172.55V254.66H173.04V256.47H173.54V255.17H174.04V254.12H174.54V259.71H175.04V264.7H175.54V255.15H176.04V254.01H176.54V255.35H177.03V254.74H177.53V260.55H178.03V257.3H178.53V256.94H179.03V254.45H179.53V254.88H180.03V255.07H180.53V257.2H181.02V255.2H181.52V263.85H182.02V256.68H182.52V254.37H183.02V255.31H183.52V262.35H184.02V255.93H184.52V256.2H185.01V255H185.51V255.19H186.01V256.11H186.51V264.21H187.01V254.46H187.51V254.5H188.01V254.69H188.51V254.02H189V255.11H189.5V255.19H190V254.08H190.5V262.73H191V345 Z" fill="#9b5044"/>
<path d="M109.2 345V294.18H109.7V295.08H110.2V293.32H110.7V297.15H111.2V296.63H111.69V297.05H112.19V294.64H112.69V294.98H113.19V292.58H113.69V295.79H114.19V296.42H114.69V297.18H115.19V295.23H115.68V294.21H116.18V294.81H116.68V293.65H117.18V294.8H117.68V294.65H118.18V295.51H118.68V292.13H119.18V296.26H119.67V294.19H120.17V294.03H120.67V294.13H121.17V295.02H121.67V294.97H122.17V293.43H122.67V293.58H123.17V296.36H123.66V294.95H124.16V295.11H124.66V295.71H125.16V294.49H125.66V294.39H126.16V296.47H126.66V294.94H127.16V295.68H127.65V296.4H128.15V294.42H128.65V296.23H129.15V293.83H129.65V293.73H130.15V293.57H130.65V295.53H131.15V296.4H131.65V295.6H132.14V293.78H132.64V294.45H133.14V293.7H133.64V296.38H134.14V294.9H134.64V294.11H135.14V296.39H135.64V296.17H136.13V293.94H136.63V296.14H137.13V293.52H137.63V295.88H138.13V295.47H138.63V295.68H139.13V296.3H139.63V294.84H140.12V294.44H140.62V293.26H141.12V296.45H141.62V293.74H142.12V293.69H142.62V293.13H143.12V295.24H143.62V295.08H144.11V294.81H144.61V293.81H145.11V293.52H145.61V293.87H146.11V293.81H146.61V294.86H147.11V293.87H147.61V293.77H148.1V293.53H148.6V295.37H149.1V294.44H149.6V296H150.1V293.9H150.6V296.28H151.1V291.39H151.6V294.07H152.1V295.06H152.59V295.23H153.09V296.8H153.59V294.63H154.09V295.85H154.59V294.48H155.09V295.36H155.59V294.55H156.09V296.77H156.58V295.27H157.08V295.96H157.58V297.12H158.08V293.29H158.58V296.37H159.08V297.15H159.58V295.77H160.08V295.58H160.57V296.15H161.07V296.23H161.57V295.09H162.07V295.28H162.57V295.68H163.07V296.52H163.57V297.7H164.07V296.54H164.56V297.25H165.06V297H165.56V295.72H166.06V297.11H166.56V295.24H167.06V296.8H167.56V297.22H168.06V295.47H168.55V298.33H169.05V297.66H169.55V297.51H170.05V295.8H170.55V297.93H171.05V296.31H171.55V295.94H172.05V295.86H172.55V295.76H173.04V296.63H173.54V297.74H174.04V295.76H174.54V296.47H175.04V296.24H175.54V297.64H176.04V295.81H176.54V297.79H177.03V297H177.53V298H178.03V298.25H178.53V296H179.03V297.47H179.53V297.84H180.03V297.7H180.53V296.68H181.02V297.5H181.52V296.73H182.02V298.66H182.52V298.47H183.02V298.64H183.52V298.84H184.02V295.75H184.52V297.04H185.01V298.22H185.51V297.87H186.01V298.06H186.51V297.55H187.01V296.79H187.51V298.9H188.01V298.01H188.51V296.85H189V295.04H189.5V299.13H190V297.97H190.5V296.63H191V345 Z" fill="#b45cc6"/>
<path d="M109.2 345V305.15H109.7V304.76H110.2V306.51H110.7V305.45H111.2V305.35H111.69V305.66H112.19V305.32H112.69V305.36H113.19V306.61H113.69V305.17H114.19V305.22H114.69V305.91H115.19V306.13H115.68V305.29H116.18V305.32H116.68V305.56H117.18V305.55H117.68V306.4H118.18V305.39H118.68V305.27H119.18V306.27H119.67V305.21H120.17V306.38H120.67V305.34H121.17V305.65H121.67V306.11H122.17V304.84H122.67V306.59H123.17V306.27H123.66V306.4H124.16V305.21H124.66V305.1H125.16V305.68H125.66V306.08H126.16V305.11H126.66V305.69H127.16V306.1H127.65V305.09H128.15V305.03H128.65V305.85H129.15V305.17H129.65V305.85H130.15V305.86H130.65V306.11H131.15V305.17H131.65V306.47H132.14V305.66H132.64V304.95H133.14V305.7H133.64V306.16H134.14V306.26H134.64V305.2H135.14V306.16H135.64V305.04H136.13V305.96H136.63V305.72H137.13V305.16H137.63V304.93H138.13V306.08H138.63V306.28H139.13V306.62H139.63V306.39H140.12V305.25H140.62V305.44H141.12V306.36H141.62V305.62H142.12V305.03H142.62V306.28H143.12V305.74H143.62V305.08H144.11V306.31H144.61V306.53H145.11V306.36H145.61V306.2H146.11V306.24H146.61V306.68H147.11V306.64H147.61V305.98H148.1V306.76H148.6V306.22H149.1V305.79H149.6V305.6H150.1V305.24H150.6V305.4H151.1V306.73H151.6V306.68H152.1V305.97H152.59V306.47H153.09V305.85H153.59V307.01H154.09V305.49H154.59V306.16H155.09V306.49H155.59V306.4H156.09V306.94H156.58V306.74H157.08V306.72H157.58V306.69H158.08V305.58H158.58V306.83H159.08V307.6H159.58V307.12H160.08V306.18H160.57V307.66H161.07V306.68H161.57V307.03H162.07V306.91H162.57V305.93H163.07V306.37H163.57V306.58H164.07V306.3H164.56V307.08H165.06V307.9H165.56V307.94H166.06V306.66H166.56V308.08H167.06V306.14H167.56V308.03H168.06V306.67H168.55V306.26H169.05V306.69H169.55V307.39H170.05V306.85H170.55V307.83H171.05V308.16H171.55V306.67H172.05V308.43H172.55V308.04H173.04V307.21H173.54V307.95H174.04V307.64H174.54V307.48H175.04V307.45H175.54V306.77H176.04V307.41H176.54V308.05H177.03V306.88H177.53V307.6H178.03V307.99H178.53V308.78H179.03V308.25H179.53V307.36H180.03V308.3H180.53V307.86H181.02V308.43H181.52V307.65H182.02V308.09H182.52V309.2H183.02V308.49H183.52V308.87H184.02V308.86H184.52V308.13H185.01V308.71H185.51V308.45H186.01V307.94H186.51V309.62H187.01V308.66H187.51V308.44H188.01V307.77H188.51V309.66H189V308.24H189.5V308.3H190V308.84H190.5V308.11H191V345 Z" fill="#df2a1c"/>
<path d="M109.2 345V336.51H109.7V335.81H110.2V334.92H110.7V335.2H111.2V337.2H111.69V333.16H112.19V331.36H112.69V332.84H113.19V338.92H113.69V338.39H114.19V332.92H114.69V336.16H115.19V327.91H115.68V336.07H116.18V333.5H116.68V332.14H117.18V332.26H117.68V330.68H118.18V334.66H118.68V335.6H119.18V332.9H119.67V341.9H120.17V333.76H120.67V339.78H121.17V333.68H121.67V335.15H122.17V328.93H122.67V325.54H123.17V334.61H123.66V333.59H124.16V335.25H124.66V332.26H125.16V330.24H125.66V331.22H126.16V331.28H126.66V333.63H127.16V331.89H127.65V332.85H128.15V332.68H128.65V321.39H129.15V332.43H129.65V330.9H130.15V331.07H130.65V330.74H131.15V331.8H131.65V331.28H132.14V329.01H132.64V328.83H133.14V331.2H133.64V328.43H134.14V331.69H134.64V329.7H135.14V327.19H135.64V330.91H136.13V327.27H136.63V327.5H137.13V323.54H137.63V328.12H138.13V329.01H138.63V329.54H139.13V329.51H139.63V328.88H140.12V323.82H140.62V315.64H141.12V324.92H141.62V324.73H142.12V327.51H142.62V319.97H143.12V326.61H143.62V322.44H144.11V324.83H144.61V324.2H145.11V327.07H145.61V322.7H146.11V323.79H146.61V326.04H147.11V326.09H147.61V332.66H148.1V323.97H148.6V322.46H149.1V325.96H149.6V329.77H150.1V323.99H150.6V324.32H151.1V326.08H151.6V322.46H152.1V323.32H152.59V322.5H153.09V320.56H153.59V322.08H154.09V322.77H154.59V320.75H155.09V328.96H155.59V322.71H156.09V322.05H156.58V317.45H157.08V322.88H157.58V320.23H158.08V320.55H158.58V322.37H159.08V321.79H159.58V322.55H160.08V320.78H160.57V319.47H161.07V323.09H161.57V318.77H162.07V321.26H162.57V327.52H163.07V318.43H163.57V311.91H164.07V319.94H164.56V318.66H165.06V318.31H165.56V317.52H166.06V320.79H166.56V324.97H167.06V308.97H167.56V318.8H168.06V312.86H168.55V316.28H169.05V318.02H169.55V320.3H170.05V319.82H170.55V324.03H171.05V317.24H171.55V315.17H172.05V317.92H172.55V321.79H173.04V322.85H173.54V314.83H174.04V317.58H174.54V314.96H175.04V313.63H175.54V313.93H176.04V313.98H176.54V319.28H177.03V310H177.53V310.9H178.03V315.13H178.53V312.11H179.03V313.08H179.53V307.36H180.03V310.84H180.53V313.89H181.02V308.43H181.52V310.81H182.02V312.08H182.52V309.2H183.02V311.58H183.52V313.82H184.02V313.37H184.52V308.13H185.01V313.07H185.51V311.19H186.01V311.7H186.51V309.62H187.01V309.47H187.51V308.44H188.01V307.77H188.51V309.66H189V308.24H189.5V308.3H190V310.95H190.5V310.5H191V345 Z" fill="#02aa4d"/>
<path d="M109.2 345V341.87H109.7V342.21H110.2V341.95H110.7V341.24H111.2V341.64H111.69V342.13H112.19V341.54H112.69V341.21H113.19V342.14H113.69V342.25H114.19V341.36H114.69V341.7H115.19V342.16H115.68V341.95H116.18V342.03H116.68V341.49H117.18V342.04H117.68V341.67H118.18V341.63H118.68V342.25H119.18V341.69H119.67V342.25H120.17V341.22H120.67V341.84H121.17V341.82H121.67V341.69H122.17V341.94H122.67V341.85H123.17V342.31H123.66V342.23H124.16V342.34H124.66V341.65H125.16V341.59H125.66V341.29H126.16V341.48H126.66V341.63H127.16V341.57H127.65V341.51H128.15V341.92H128.65V341.86H129.15V341.72H129.65V341.86H130.15V341.69H130.65V341.25H131.15V341.47H131.65V341.72H132.14V341.84H132.64V342.05H133.14V342.14H133.64V341.77H134.14V341.91H134.64V342.02H135.14V341.9H135.64V341.87H136.13V341.29H136.63V341.72H137.13V342.21H137.63V341.52H138.13V342.38H138.63V341.77H139.13V341.99H139.63V342.07H140.12V342.39H140.62V342.38H141.12V341.31H141.62V341.71H142.12V342.34H142.62V342.13H143.12V342.13H143.62V342.26H144.11V342.02H144.61V341.74H145.11V341.37H145.61V341.66H146.11V341.45H146.61V341.31H147.11V341.52H147.61V342.23H148.1V342.03H148.6V341.88H149.1V342.12H149.6V341.47H150.1V341.78H150.6V342.27H151.1V341.21H151.6V342.17H152.1V341.57H152.59V341.36H153.09V342.28H153.59V341.32H154.09V341.39H154.59V341.87H155.09V342.28H155.59V341.32H156.09V341.88H156.58V341.83H157.08V342.39H157.58V341.47H158.08V341.98H158.58V341.87H159.08V342.13H159.58V341.87H160.08V341.3H160.57V341.28H161.07V341.4H161.57V341.64H162.07V342.02H162.57V341.34H163.07V341.32H163.57V342.23H164.07V341.58H164.56V342.19H165.06V341.57H165.56V341.36H166.06V341.51H166.56V342.19H167.06V342.23H167.56V342.32H168.06V341.42H168.55V342.13H169.05V341.53H169.55V342.07H170.05V341.94H170.55V342.29H171.05V341.25H171.55V342.14H172.05V342.29H172.55V341.21H173.04V342.31H173.54V341.54H174.04V341.5H174.54V341.99H175.04V341.88H175.54V341.28H176.04V342.3H176.54V342.24H177.03V342.35H177.53V342.09H178.03V341.32H178.53V341.24H179.03V341.78H179.53V341.72H180.03V341.42H180.53V341.49H181.02V341.38H181.52V341.68H182.02V341.6H182.52V341.8H183.02V341.22H183.52V342.33H184.02V341.68H184.52V341.52H185.01V342.23H185.51V341.97H186.01V342.36H186.51V342.25H187.01V341.77H187.51V341.37H188.01V341.55H188.51V341.53H189V341.49H189.5V341.77H190V341.34H190.5V341.67H191V345 Z" fill="#f16800"/>
<path d="M109.2 345V343.63H109.7V343.11H110.2V343.23H110.7V343.68H111.2V343.51H111.69V343.18H112.19V343.48H112.69V343.31H113.19V343.77H113.69V343.32H114.19V343.81H114.69V343.57H115.19V343.82H115.68V343.2H116.18V343.71H116.68V343.36H117.18V343.23H117.68V343.64H118.18V343.35H118.68V343.82H119.18V343.4H119.67V343.76H120.17V343.24H120.67V343.46H121.17V343.67H121.67V343.59H122.17V343.87H122.67V343.35H123.17V343.58H123.66V343.89H124.16V343.7H124.66V343.35H125.16V343.39H125.66V343.64H126.16V343.26H126.66V343.67H127.16V343.12H127.65V343.43H128.15V343.85H128.65V343.73H129.15V343.12H129.65V343.54H130.15V343.74H130.65V343.88H131.15V343.42H131.65V343.24H132.14V343.89H132.64V343.26H133.14V343.45H133.64V343.82H134.14V343.23H134.64V343.51H135.14V343.24H135.64V343.22H136.13V343.23H136.63V343.79H137.13V343.53H137.63V343.81H138.13V343.43H138.63V343.1H139.13V343.65H139.63V343.14H140.12V343.1H140.62V343.75H141.12V343.27H141.62V343.25H142.12V343.23H142.62V343.56H143.12V343.36H143.62V343.44H144.11V343.84H144.61V343.6H145.11V343.26H145.61V343.24H146.11V343.3H146.61V343.56H147.11V343.49H147.61V343.51H148.1V343.18H148.6V343.74H149.1V343.64H149.6V343.73H150.1V343.64H150.6V343.31H151.1V343.56H151.6V343.69H152.1V343.82H152.59V343.62H153.09V343.67H153.59V343.77H154.09V343.79H154.59V343.34H155.09V343.42H155.59V343.84H156.09V343.51H156.58V343.68H157.08V343.82H157.58V343.59H158.08V343.82H158.58V343.23H159.08V343.6H159.58V343.37H160.57V343.82H161.07V343.59H161.57V343.42H162.07V343.22H162.57V343.5H163.07V343.85H163.57V343.46H164.07V343.62H164.56V343.69H165.06V343.22H166.06V343.51H166.56V343.35H167.06V343.49H167.56V343.28H168.06V343.67H168.55V343.43H169.05V343.38H169.55V343.69H170.05V343.61H170.55V343.67H171.05V343.34H171.55V343.55H172.05V343.75H172.55V343.13H173.04V343.89H173.54V343.77H174.04V343.85H174.54V343.14H175.04V343.3H175.54V343.81H176.04V343.14H176.54V343.4H177.03V343.7H178.03V343.39H178.53V343.23H179.03V343.32H179.53V343.79H180.03V343.76H180.53V343.31H181.02V343.27H181.52V343.54H182.02V343.78H182.52V343.77H183.02V343.87H183.52V343.21H184.02V343.18H184.52V343.64H185.01V343.64H185.51V343.84H186.01V343.81H186.51V343.7H187.01V343.77H187.51V343.32H188.01V343.77H188.51V343.15H189V343.63H189.5V343.71H190V343.24H190.5V343.73H191V345 Z" fill="#017bbf"/>
<rect x="191" y="251.8" width="81.6" height="93.2" fill="#e968ab"/>
<path d="M191 345V260.79H191.5V257.62H192V262.44H192.5V257.87H193V257.56H193.5V256.53H194V256.75H194.5V264.1H195V259.78H195.51V259.88H196.01V257.54H196.51V265.47H197.01V261.07H197.51V257.29H198.01V257.56H198.51V256.52H199.01V256.54H199.51V259.93H200.01V256.56H200.51V260.48H201.01V257.1H201.51V255.75H202.01V256.81H202.51V262.5H203.01V259.48H203.52V263.47H204.02V256.56H204.52V262.99H205.02V259.8H205.52V264.11H206.02V256.73H206.52V255.29H207.02V256.45H207.52V262.58H208.02V258.34H208.52V255.71H209.02V255.73H209.52V256.45H210.02V257.57H210.52V259.53H211.02V255.76H211.53V261.2H212.03V256.16H212.53V256.73H213.03V260.45H213.53V255.46H214.03V255.41H214.53V261.62H215.03V257.53H215.53V259.26H216.03V260.38H216.53V256.81H217.03V256H217.53V255.92H218.03V255.59H218.53V260.48H219.03V254.88H219.53V255.42H220.04V257.95H220.54V262.3H221.04V254.86H221.54V255.67H222.04V257.57H222.54V254.96H223.04V257.16H223.54V259.99H224.04V255.09H224.54V254.52H225.04V255.21H225.54V255.42H226.04V256.79H226.54V256.67H227.04V257.11H227.54V258.15H228.05V255.02H228.55V255.58H229.05V256.7H229.55V256.39H230.05V259.88H230.55V256.09H231.05V254.99H231.55V254.83H232.05V257.02H232.55V257.65H233.05V255.73H233.55V256.52H234.05V255.95H234.55V259.57H235.05V258.83H235.55V254.24H236.06V254.52H236.56V259.39H237.06V261.17H237.56V255.54H238.06V256.53H238.56V256.26H239.06V257.7H239.56V254.06H240.06V260.39H240.56V260.13H241.06V255.35H241.56V255.67H242.06V257.22H242.56V254.38H243.06V253.92H243.56V255.67H244.07V258.7H244.57V256.46H245.07V254.14H245.57V253.65H246.07V254.28H246.57V254.65H247.07V255.57H247.57V253.39H248.07V254.32H248.57V258.39H249.07V254.28H249.57V255.47H250.07V253.92H250.57V256.32H251.07V255.13H251.57V254.05H252.07V255.13H252.58V255.96H253.08V254.49H253.58V256.49H254.08V254.28H254.58V258.49H255.08V258.03H255.58V255.11H256.08V257.29H256.58V253.95H257.08V253.27H257.58V253.55H258.08V256.46H258.58V253.06H259.08V257.05H259.58V255.36H260.08V254.86H260.59V254.26H261.09V254.2H261.59V255.02H262.09V255.39H262.59V256.3H263.09V253.12H263.59V253.23H264.09V254.59H264.59V256.05H265.09V255.88H265.59V256.98H266.09V254.06H266.59V253.66H267.09V252.86H267.59V253.22H268.09V254.33H268.6V254.69H269.1V253.59H269.6V253.21H270.1V252.8H270.6V255.08H271.1V254.26H271.6V253.9H272.1V253.21H272.6V345 Z" fill="#9b5044"/>
<path d="M191 345V309.85H191.5V310.79H192V311.18H192.5V306.05H193V306.88H193.5V309.08H194V310.96H194.5V309.72H195V309.73H195.51V310.37H196.01V309.57H196.51V310.36H197.01V311.41H197.51V309.18H198.01V309.38H198.51V310.35H199.01V305.62H199.51V311.94H200.01V310.79H200.51V309.56H201.01V310.34H202.01V310.78H202.51V307.63H203.01V310.79H203.52V310.39H204.02V309.89H204.52V311.89H205.02V311.79H205.52V311.41H206.02V312.63H206.52V311.28H207.02V309.26H207.52V312.51H208.02V310.17H208.52V311.61H209.02V310.03H209.52V311H210.02V308.22H210.52V314.05H211.02V313.71H211.53V312.77H212.03V312.87H212.53V311.77H213.03V313.63H213.53V313.45H214.03V314.64H214.53V312.04H215.03V312.6H215.53V315.04H216.03V314.63H216.53V313.1H217.03V314.36H217.53V313.28H218.03V313.51H218.53V314.14H219.03V314.98H219.53V314.27H220.04V311.72H220.54V314H221.04V314.88H221.54V312.27H222.04V314.16H222.54V314.36H223.04V315.41H223.54V315.4H224.04V311.17H224.54V315.77H225.04V315.56H225.54V314.16H226.04V316.34H226.54V312.55H227.04V316.39H227.54V316.72H228.05V317.02H228.55V317.98H229.05V317.21H229.55V313.58H230.05V318.68H230.55V318.69H231.05V313.97H231.55V313.24H232.05V318.51H232.55V317.53H233.05V319.64H233.55V318.55H234.05V317.67H234.55V319.11H235.05V319.02H235.55V318.52H236.06V320.07H236.56V318.7H237.06V317.93H237.56V316.38H238.06V314.77H238.56V319.7H239.06V318.49H239.56V318.4H240.06V319.04H240.56V317.81H241.06V319.01H241.56V318.91H242.06V319.57H242.56V321.91H243.06V320.94H243.56V321.4H244.07V319.06H244.57V319.69H245.07V321.25H245.57V320.72H246.07V321.92H246.57V321.5H247.07V322.2H247.57V320.43H248.07V322.23H248.57V321.71H249.07V318.7H249.57V322.69H250.07V321.22H250.57V322.96H251.07V323.69H251.57V323.97H252.07V318.93H252.58V323.28H253.08V323.35H253.58V321.43H254.08V323.86H254.58V322.58H255.08V323.93H255.58V323.87H256.08V324.76H256.58V325.44H257.08V322.89H257.58V324.35H258.08V324.4H258.58V323.97H259.08V323.76H259.58V323.95H260.08V326.05H260.59V326.91H261.09V326.62H261.59V326.87H262.09V322.4H262.59V326.02H263.09V325.01H263.59V327.2H264.09V325.88H264.59V324.63H265.09V326.33H265.59V326.67H266.09V325.76H266.59V328.25H267.09V327.17H267.59V327.49H268.09V328.43H268.6V327.89H269.1V327.97H269.6V327.85H270.1V327.89H270.6V329.72H271.1V329.59H271.6V327.17H272.1V327.9H272.6V345 Z" fill="#b45cc6"/>
<path d="M191 345V332.54H191.5V332.12H192V332.84H192.5V334.45H193V332.8H193.5V332.25H194V333.94H194.5V332.42H195V333.02H195.51V332.1H196.01V332.2H196.51V333.97H197.01V333.71H197.51V331.8H198.01V332.26H198.51V333.54H199.01V332.35H199.51V334.65H200.01V333.47H200.51V334.46H201.01V334.84H201.51V332.58H202.01V333.43H202.51V332.73H203.01V331.87H203.52V333.61H204.02V333.06H204.52V333.76H205.02V334.08H205.52V332.75H206.02V334.68H206.52V334.62H207.02V332.34H207.52V333.79H208.02V332.96H208.52V331.96H209.02V331.97H209.52V329.91H210.02V331.69H210.52V333.41H211.02V332.89H211.53V333.84H212.03V333.4H212.53V333.97H213.03V331.78H213.53V331.72H214.03V331.64H214.53V332.4H215.03V331.7H215.53V332.91H216.03V331.71H216.53V332.17H217.03V331.31H217.53V330.54H218.03V334.07H218.53V333.71H219.03V332.26H219.53V332.81H220.04V331.44H220.54V331.52H221.04V333.78H221.54V332.43H222.04V333.28H222.54V332.52H223.04V332.55H223.54V333.15H224.04V334.07H224.54V332.83H225.04V334.15H225.54V333.2H226.04V331.83H226.54V334.11H227.04V332.55H227.54V333.39H228.05V332.14H228.55V333.45H229.05V334.04H229.55V331.78H230.05V332.02H230.55V332.58H231.05V331.95H231.55V331.71H232.05V332.21H232.55V331.6H233.05V331.52H233.55V333.9H234.05V334.03H234.55V333.62H235.05V332.43H235.55V333.61H236.06V332.97H236.56V333.12H237.06V332.49H237.56V331.63H238.06V332.65H238.56V331.91H239.06V331.04H239.56V331.38H240.06V332.18H240.56V330.62H241.06V333.66H241.56V332.64H242.06V333.09H242.56V333.8H243.06V331.5H243.56V333.16H244.07V333.35H244.57V331.36H245.07V333H245.57V333.5H246.07V333.28H246.57V331.19H247.07V333.54H247.57V331.61H248.07V331.86H248.57V332.84H249.07V333.44H249.57V331.23H250.07V331.04H250.57V331.03H251.07V333.4H251.57V331.25H252.07V331.91H252.58V330.39H253.08V329.91H253.58V332.04H254.08V331.02H254.58V332.89H255.08V332.44H255.58V330.69H256.08V331.02H256.58V328.71H257.08V332.98H257.58V333.29H258.08V333.43H258.58V330.58H259.08V330.71H259.58V331.57H260.08V331.87H260.59V332.17H261.09V332.26H261.59V332.11H262.09V332.95H262.59V333.44H263.09V332.55H263.59V331.72H264.09V330.79H264.59V331.19H265.09V332.84H265.59V331H266.09V331.71H266.59V331.49H267.09V331.18H267.59V330.65H268.09V332.81H268.6V331.37H269.1V331.97H269.6V331.27H270.1V332.43H270.6V333.24H271.1V330.69H271.6V332.19H272.1V328.88H272.6V345 Z" fill="#df2a1c"/>
<path d="M191 345V334.46H191.5V333.03H192V333.84H192.5V334.45H193V334.1H193.5V334.92H194V333.94H194.5V334.06H195V333.02H195.51V333.41H196.01V333.45H196.51V333.97H197.01V333.71H197.51V332.99H198.01V333.05H198.51V333.54H199.01V333.39H199.51V334.65H200.01V334.78H200.51V334.46H201.01V334.84H201.51V334.48H202.01V333.43H202.51V333.6H203.01V332.74H203.52V333.66H204.02V334.15H204.52V333.76H205.02V334.08H205.52V334.53H206.02V334.68H206.52V334.62H207.02V332.34H207.52V334.34H208.02V332.96H208.52V332.65H209.02V333.63H209.52V334.2H210.02V334.03H210.52V333.41H211.02V333.54H211.53V333.98H212.03V333.95H212.53V333.97H213.03V332.36H213.53V333.68H214.03V332.61H214.53V334.42H215.03V332.54H215.53V333.62H216.03V333.31H216.53V334.03H217.03V333.45H217.53V332.31H218.03V334.07H218.53V334.12H219.03V333.01H219.53V333.02H220.04V332.77H220.54V333.77H221.54V332.53H222.04V333.28H222.54V333.16H223.04V332.62H223.54V333.15H224.04V334.07H224.54V333.23H225.04V334.15H225.54V333.2H226.04V332.26H226.54V334.11H227.04V333.96H227.54V333.39H228.05V332.15H228.55V333.45H229.05V334.04H229.55V331.8H230.05V333.5H230.55V333.85H231.05V333.21H231.55V333.19H232.05V333.38H232.55V332.52H233.05V332.02H233.55V333.9H234.05V334.03H234.55V333.62H235.05V332.43H235.55V333.61H236.06V332.97H236.56V333.12H237.06V332.49H237.56V333.97H238.06V332.65H238.56V331.91H239.06V332.83H239.56V333.81H240.06V332.25H240.56V332.41H241.06V333.66H241.56V332.89H242.06V333.09H242.56V333.8H243.06V331.67H243.56V333.16H244.07V333.35H244.57V331.82H245.07V333H245.57V333.5H246.07V333.28H246.57V332.16H247.07V333.54H247.57V333.17H248.07V331.86H248.57V332.84H249.07V333.44H249.57V333.14H250.07V332.96H250.57V332.13H251.07V333.4H251.57V331.36H252.07V333.27H252.58V332.87H253.08V332.52H253.58V332.95H254.08V332.29H254.58V332.89H255.08V332.74H255.58V332.39H256.08V331.8H256.58V332.43H257.08V332.98H257.58V333.29H258.08V333.43H258.58V332.12H259.08V332.29H259.58V332.96H260.08V332.68H260.59V332.36H261.09V332.26H261.59V333.26H262.09V332.95H262.59V333.44H263.09V332.55H263.59V332.14H264.09V333.01H264.59V331.42H265.09V332.84H265.59V331.28H266.09V331.71H266.59V331.52H267.09V332.14H267.59V331.79H268.09V332.81H268.6V332.76H269.1V332.89H269.6V331.91H270.1V332.97H270.6V333.24H271.1V332.33H271.6V333.11H272.1V332.17H272.6V345 Z" fill="#02aa4d"/>
<path d="M191 345V337.48H191.5V339.7H192V339.33H192.5V338.72H193V338.23H193.5V338.2H194V339.62H194.5V339.18H195V339.05H195.51V337.26H196.01V339.47H196.51V338.46H197.01V337.81H197.51V338.38H198.01V337.83H198.51V339.32H199.01V337.93H199.51V338.75H200.01V337.77H200.51V338.13H201.01V339.2H201.51V338.08H202.01V338.25H202.51V338.38H203.01V339.32H203.52V336.82H204.02V337.08H204.52V337.16H205.02V339.19H205.52V338.79H206.02V338.42H206.52V337.6H207.02V338.8H207.52V337.15H208.02V337.52H208.52V339.24H209.02V337.91H209.52V337.98H210.02V338.87H210.52V338.27H211.02V337.81H211.53V339.26H212.03V337.96H212.53V337.84H213.03V339.46H213.53V337.26H214.03V338.72H214.53V338.52H215.03V338.19H215.53V337.02H216.03V336.99H216.53V337.26H217.03V337.72H217.53V337.54H218.03V337.83H218.53V338.21H219.03V337H219.53V336.61H220.04V338.77H220.54V338.68H221.04V339.04H221.54V336.66H222.04V339.01H222.54V336.69H223.04V338.38H223.54V338.04H224.04V336.6H224.54V338.86H225.04V337.27H225.54V337.13H226.04V336.95H226.54V337.85H227.04V337.92H227.54V338.51H228.05V338.96H228.55V339.02H229.05V338.78H229.55V337.53H230.05V337.88H230.55V337.69H231.05V337.18H231.55V338.97H232.05V338.91H232.55V337.46H233.05V337.03H233.55V336.67H234.05V337H234.55V336.79H235.05V337.33H235.55V337.97H236.06V336.5H236.56V337.73H237.06V336.07H237.56V338.87H238.06V336.44H238.56V336.19H239.06V338.6H239.56V337.97H240.06V338.73H240.56V337.29H241.06V337.17H241.56V335.85H242.06V337.66H242.56V338.57H243.06V337.23H243.56V337.41H244.07V335.73H244.57V337.41H245.07V338.15H245.57V336.12H246.07V338.07H246.57V336.6H247.07V336.37H247.57V336.04H248.07V336.19H248.57V336.93H249.07V337.35H249.57V338.19H250.07V335.77H250.57V336.82H251.07V336.38H251.57V336.51H252.07V337.58H252.58V336.28H253.08V337.4H253.58V338.41H254.08V337.58H254.58V336.51H255.08V335.81H255.58V336.02H256.08V336.36H256.58V337.01H257.08V335.48H257.58V337.45H258.08V338.04H258.58V337.19H259.08V336.61H259.58V336.28H260.08V337.55H260.59V336.78H261.09V336.99H261.59V336.72H262.09V335.63H262.59V337.51H263.09V338.06H263.59V337.67H264.09V337.38H264.59V337.96H265.09V336.46H265.59V336.52H266.09V337.17H266.59V336.12H267.09V336.3H267.59V337.28H268.09V336.3H268.6V335.42H269.1V335.59H269.6V336.53H270.1V337.03H270.6V337.75H271.1V335.76H271.6V337.22H272.1V337.44H272.6V345 Z" fill="#f16800"/>
<path d="M191 345V341.87H191.5V342.53H192V341.94H192.5V342.37H193V340.89H193.5V342.29H194V342.69H194.5V341.06H195V340.82H195.51V340.55H196.51V342.71H197.01V341.01H197.51V341.85H198.01V341.44H198.51V341.28H199.01V342.42H199.51V342.51H200.01V340.7H200.51V341.97H201.01V341.55H201.51V342.85H202.01V340.92H202.51V342.46H203.01V340.82H203.52V341.52H204.02V342.63H204.52V342.17H205.02V341.62H205.52V341.32H206.02V342.21H206.52V340.9H207.02V340.52H207.52V340.52H208.02V341.78H208.52V342.7H209.02V342.08H209.52V341.38H210.02V340.62H210.52V342.32H211.02V342.35H211.53V341.68H212.03V342.38H212.53V340.43H213.03V341.74H213.53V340.59H214.03V341.51H214.53V341.49H215.03V340.44H215.53V340.63H216.03V341.77H216.53V342.01H217.03V340.86H217.53V341.76H218.03V341.99H218.53V342.54H219.03V340.72H219.53V341.72H220.04V342.02H220.54V341.85H221.04V342.22H221.54V342.32H222.04V340.47H222.54V341.85H223.04V341.36H223.54V341.19H224.04V341.92H224.54V341.26H225.04V342.25H225.54V341.58H226.04V340.34H226.54V341.2H227.04V340.77H227.54V342.16H228.05V341.47H228.55V341.07H229.05V342.33H229.55V342.44H230.05V341.19H230.55V340.46H231.05V340.61H231.55V341.23H232.05V340.7H232.55V341.07H233.05V342.48H233.55V341.48H234.05V340.46H234.55V342.07H235.05V341.67H235.55V341.63H236.06V341.34H236.56V342.2H237.06V342.36H237.56V340.8H238.06V341.44H238.56V340.19H239.06V342.18H239.56V342.43H240.06V342.42H240.56V342.32H241.06V341.65H241.56V340.63H242.06V340.86H242.56V340.32H243.06V340.67H243.56V341.16H244.07V342.38H244.57V340.79H245.07V341.86H245.57V340.64H246.07V341.48H246.57V341.21H247.07V342.03H247.57V341.62H248.07V340.92H248.57V341.41H249.07V340.05H249.57V340.85H250.07V340.07H250.57V341.88H251.07V342.11H251.57V340.48H252.07V340.46H252.58V341.8H253.08V341.52H253.58V341.77H254.08V340.39H254.58V342.07H255.08V340.47H255.58V341.51H256.08V340.59H256.58V342.08H257.08V341.07H257.58V342.22H258.08V339.91H258.58V341.69H259.08V342.14H259.58V340.84H260.08V341.48H260.59V340.74H261.09V340.34H261.59V342.15H262.09V341.45H262.59V341.86H263.09V341.51H263.59V340.78H264.09V340.23H264.59V340.57H265.09V340.38H265.59V341.12H266.09V340.54H266.59V340.84H267.09V341.74H267.59V340.71H268.09V342.06H268.6V342.02H269.1V341.95H269.6V340.18H270.1V341.75H270.6V340.2H271.1V341.74H271.6V341.24H272.1V341.33H272.6V345 Z" fill="#017bbf"/>
<rect x="314.4" y="251.8" width="83.1" height="93.2" fill="#e968ab"/>
<path d="M314.4 345V254.79H314.9V253.87H315.4V253.21H315.9V253.98H316.4V256.4H316.9V253.08H317.4V256.08H317.9V254.34H318.4V254.38H318.91V253.56H319.41V254.12H319.91V256.89H320.41V253.19H320.91V256.05H321.41V253.41H321.91V253.25H322.41V253.37H322.91V253.57H323.41V255.37H323.91V253.53H324.41V256.54H324.91V253.7H325.41V253.3H325.91V255.63H326.41V253.74H326.92V256.68H327.42V253.35H327.92V253.54H328.42V253.37H328.92V253.07H329.42V253.82H329.92V255H330.42V254.87H330.92V254.99H331.42V254.67H331.92V254.79H332.42V253.65H332.92V253.21H333.42V255.99H333.92V254.63H334.42V253.5H334.92V254.62H335.43V253.29H335.93V254.32H336.43V256.84H336.93V253.27H337.43V255.7H337.93V254.7H338.43V253.98H338.93V253.65H339.43V253.37H339.93V253.75H340.43V253.02H340.93V254.11H341.43V253.95H341.93V254.54H342.43V253.29H342.93V254.56H343.43V254.42H343.94V256.49H344.44V257.07H344.94V253.46H345.44V253.72H345.94V255.37H346.44V253.65H346.94V253.93H347.44V254.03H347.94V253.29H348.44V256.97H348.94V255.94H349.44V254.99H349.94V253.2H350.44V253.27H350.94V253.92H351.44V255.8H351.95V255.28H352.45V254.29H352.95V253.86H353.45V253.2H353.95V256.31H354.45V256.32H354.95V253.83H355.45V253.18H355.95V253.1H356.45V254.45H356.95V253.3H357.45V256.66H357.95V253.42H358.45V253.02H358.95V253.78H359.45V253.23H359.95V253.44H360.46V255.76H360.96V253.32H361.46V255.78H361.96V253.68H362.46V257.03H362.96V253.06H363.46V253.18H363.96V253.37H364.46V256.4H364.96V253.47H365.46V253.44H365.96V253.76H366.46V256.04H366.96V254.11H367.46V253.61H367.96V257.44H368.47V254.48H368.97V253.05H369.47V253.48H369.97V253.66H370.47V255.42H370.97V256.92H371.47V254.37H371.97V256.99H372.47V253.37H372.97V253.75H373.47V254.3H373.97V253.41H374.47V253.79H374.97V255.91H375.47V253.36H375.97V256.85H376.47V254.16H376.98V253.24H377.48V253.67H377.98V255.83H378.48V253.14H378.98V254.38H379.48V253.69H379.98V254.58H380.48V253.64H380.98V254.29H381.48V254.17H381.98V253.77H382.48V254.44H382.98V254.7H383.48V256.61H383.98V256.98H384.48V253.26H384.98V253.75H385.49V253.08H385.99V253.39H386.49V253.79H386.99V253.47H387.49V254.01H387.99V256.83H388.49V254.48H388.99V256.66H389.49V253.74H389.99V255.36H390.49V253.62H390.99V255.48H391.49V254.08H391.99V254.17H392.49V253.42H392.99V254.9H393.5V255.53H394V253.83H394.5V253.33H395V257.05H395.5V253.11H396V253.72H396.5V253.64H397V253.27H397.5V345 Z" fill="#9b5044"/>
<path d="M314.4 345V305.2H314.9V304.94H315.4V304.71H315.9V303.83H316.4V304.8H316.9V304.52H317.4V303.84H317.9V304.8H318.4V304.08H318.91V304.83H319.41V304H319.91V304.64H320.41V304.07H320.91V304.29H321.91V304.68H322.41V304.81H322.91V304.29H323.41V304.06H323.91V304.35H324.41V304.57H324.91V305.19H325.41V304.42H325.91V304.73H326.41V305.07H326.92V304.99H327.42V303.81H327.92V304.37H328.42V304.06H328.92V304.59H329.42V304.89H329.92V304.46H330.42V303.91H330.92V304.48H331.42V303.81H331.92V304.26H332.42V304.39H332.92V305.06H333.42V304.92H333.92V304.9H334.42V303.83H334.92V304.45H335.43V304.24H335.93V303.72H336.43V305.17H336.93V304.59H337.43V304.18H337.93V304.03H338.43V305.14H338.93V303.7H339.43V305.12H339.93V304.51H340.43V304.22H340.93V304.09H341.43V304.08H341.93V305.22H342.43V304.46H342.93V304.86H343.43V305.18H343.94V303.76H344.44V303.72H344.94V304.69H345.44V304.39H345.94V305.03H346.44V304.36H346.94V304.46H347.44V305.18H347.94V304.52H348.44V304.92H348.94V304.56H349.44V304.71H349.94V305.11H350.44V303.84H350.94V304.9H351.44V304.8H351.95V305.17H352.45V303.97H352.95V304.36H353.45V304.35H353.95V304.27H354.45V303.99H354.95V305.19H355.45V303.74H355.95V303.93H356.45V304.22H356.95V304.88H357.45V304.95H357.95V303.82H358.45V305.02H358.95V304.37H359.45V304.98H359.95V303.79H360.46V305.18H360.96V304.53H361.46V303.97H361.96V303.95H362.46V305.28H362.96V304.06H363.46V304.83H363.96V304.48H364.46V304.25H364.96V303.79H365.46V304.42H365.96V304.47H366.46V303.74H366.96V303.95H367.46V304.73H367.96V304.62H368.47V304.97H368.97V304.53H369.47V304.51H369.97V304.28H370.47V305.08H370.97V304.85H371.47V304.31H371.97V304.87H372.47V303.88H372.97V304.92H373.47V304.93H373.97V304.79H374.47V303.88H374.97V304.76H375.47V304.82H375.97V304.04H376.47V304.45H376.98V303.86H377.48V304.05H377.98V304.1H378.48V304.68H378.98V303.98H379.48V304.52H379.98V305.06H380.48V304.24H380.98V305.28H381.48V303.79H381.98V304.8H382.48V304.76H382.98V304.11H383.48V305.11H383.98V305.26H384.48V305.29H384.98V304.51H385.49V304.03H385.99V305.18H386.49V304.79H386.99V304.09H387.49V303.81H387.99V304.29H388.49V304.38H388.99V304.99H389.49V305.24H389.99V303.94H390.49V304.26H390.99V304.86H391.49V303.93H391.99V304.8H392.49V303.77H392.99V303.99H393.5V305.02H394V304.43H394.5V305.01H395V303.87H395.5V304.85H396V303.94H396.5V304.11H397V303.96H397.5V345 Z" fill="#b45cc6"/>
<path d="M314.4 345V305.77H314.9V305.62H315.4V305.65H315.9V305.7H316.4V305.61H316.9V305.69H317.4V305.78H317.9V306.03H318.4V306.37H318.91V306.44H319.41V306.13H319.91V305.78H320.41V306.37H320.91V306.06H321.41V305.88H321.91V305.75H322.41V305.64H322.91V305.93H323.41V306.15H323.91V305.77H324.41V305.6H324.91V305.57H325.41V306.28H325.91V305.5H326.41V305.9H326.92V306.21H327.42V305.94H327.92V305.7H328.42V305.74H328.92V305.53H329.42V306.13H329.92V306.25H330.42V306.36H330.92V306.14H331.42V305.63H331.92V305.85H332.42V305.52H332.92V305.73H333.42V305.58H333.92V305.88H334.42V306.25H334.92V305.89H335.43V305.77H335.93V305.56H336.43V305.93H336.93V306.45H337.43V305.74H337.93V305.71H338.43V306.06H338.93V306.35H339.43V305.95H339.93V306.41H340.43V305.92H340.93V306.46H341.43V306.2H341.93V306.45H342.43V306.25H342.93V306.33H343.43V306.35H343.94V305.83H344.44V305.72H344.94V306.33H345.44V306.12H345.94V306.27H346.44V306.38H346.94V305.54H347.44V306.44H347.94V306.49H348.44V306.1H348.94V305.88H349.44V306.4H349.94V306.14H350.44V306.14H350.94V305.78H351.44V305.76H351.95V305.78H352.45V305.7H352.95V306.32H353.45V305.53H353.95V306.21H354.45V306.23H354.95V305.54H355.45V306.22H355.95V305.62H356.45V306.46H356.95V305.7H357.45V305.93H357.95V305.69H358.45V306.17H358.95V306.03H359.45V306.27H359.95V306.49H360.46V306.32H360.96V306.24H361.46V306.12H361.96V305.65H362.46V305.73H362.96V305.7H363.46V305.6H363.96V305.82H364.46V306.49H364.96V305.74H365.46V305.82H365.96V306.32H366.46V305.97H366.96V306.39H367.46V306.1H367.96V305.7H368.47V305.84H368.97V306.07H369.47V305.99H369.97V306.4H370.47V306.18H370.97V305.98H371.47V305.72H371.97V306.32H372.47V306.49H372.97V306.14H373.47V306.48H373.97V305.88H374.47V305.89H374.97V305.8H375.47V305.59H375.97V305.57H376.47V305.71H376.98V306.45H377.48V305.77H377.98V306.06H378.48V306.47H378.98V305.96H379.48V306.05H379.98V306.18H380.48V306.47H380.98V305.79H381.48V306.13H381.98V306.08H382.48V306.21H382.98V305.57H383.48V305.81H383.98V305.76H384.48V305.84H384.98V306.29H385.49V305.62H385.99V306H386.49V306.49H386.99V306.18H387.49V305.62H387.99V306.18H388.49V306.45H388.99V306H389.49V306.14H389.99V305.95H390.49V306.44H390.99V306.2H391.49V305.76H391.99V305.71H392.49V306.31H392.99V305.86H393.5V305.6H394V306.22H394.5V306.3H395V306.02H395.5V306.29H396V305.51H396.5V305.6H397V305.96H397.5V345 Z" fill="#df2a1c"/>
<path d="M314.4 345V307.76H314.9V307.72H315.4V308.05H315.9V308.48H316.4V308.09H316.9V307.95H317.4V307.53H317.9V307.96H318.4V308.44H318.91V307.92H319.41V307.97H319.91V308.44H320.41V307.76H320.91V308.1H321.41V308.46H321.91V308.43H322.41V307.76H322.91V307.63H323.41V308.16H323.91V307.97H324.41V308.37H324.91V308.29H325.41V308H325.91V308.5H326.41V307.95H326.92V308.47H327.42V308.08H327.92V307.53H328.42V307.76H328.92V308.18H329.42V308.2H329.92V307.85H330.42V307.77H330.92V307.87H331.42V308.09H331.92V308.35H332.42V307.81H332.92V307.89H333.42V308.32H333.92V308.03H334.42V307.59H334.92V307.56H335.43V307.95H335.93V307.88H336.43V307.68H336.93V308.2H337.43V307.8H337.93V307.75H338.43V307.72H338.93V307.92H339.43V308.21H339.93V307.81H340.43V307.79H340.93V307.94H341.43V307.79H341.93V308.44H342.43V307.89H342.93V308.44H343.43V308.09H343.94V308.01H344.44V307.91H344.94V307.52H345.94V307.82H346.44V308.18H347.44V307.93H347.94V307.53H348.44V307.88H348.94V308.35H349.44V308.5H349.94V307.61H350.44V307.73H350.94V307.79H351.44V307.98H351.95V307.82H352.45V307.99H352.95V307.6H353.45V308.07H353.95V307.97H354.45V307.71H354.95V307.98H355.45V308.08H355.95V307.74H356.45V308.07H356.95V307.98H357.45V307.79H357.95V307.9H358.45V307.97H358.95V308.17H359.45V307.54H359.95V307.97H360.46V307.58H360.96V307.93H361.46V308.21H361.96V308.28H362.46V308.06H362.96V307.68H363.46V308.32H363.96V308.42H364.46V307.53H364.96V307.6H365.46V308.13H365.96V307.57H366.46V308.09H366.96V307.73H367.46V308.31H367.96V308.02H368.47V307.96H368.97V307.89H369.47V308.48H369.97V308.29H370.47V307.79H370.97V308.18H371.47V308.08H371.97V308.23H372.47V307.63H372.97V308.25H373.47V307.63H373.97V308.39H374.47V307.6H374.97V307.62H375.47V307.97H375.97V307.78H376.47V308.19H376.98V308.39H377.48V307.9H377.98V307.61H378.48V307.77H378.98V308.48H379.48V308.01H379.98V308.49H380.48V308.26H380.98V307.85H381.48V308.34H381.98V308.47H382.48V308.2H382.98V308.02H383.48V308.04H383.98V307.67H384.48V308.34H384.98V307.94H385.49V307.68H385.99V308.36H386.49V307.69H386.99V308.24H387.49V308.23H387.99V308.37H388.49V307.76H388.99V308.08H389.49V307.6H389.99V307.56H390.49V308.49H390.99V307.99H391.49V308.3H391.99V307.77H392.49V308.3H392.99V307.69H393.5V307.94H394V307.7H394.5V307.62H395V308.2H395.5V307.73H396V307.9H396.5V308.1H397V307.72H397.5V345 Z" fill="#02aa4d"/>
<path d="M314.4 345V310.88H314.9V311.08H315.4V310.8H315.9V310.48H316.4V310.76H316.9V310.26H317.4V310.89H317.9V310.58H318.4V310.08H318.91V310.42H319.41V310.31H319.91V310.43H320.41V310.3H320.91V311.13H321.41V310.66H321.91V310.56H322.41V310.54H322.91V310.27H323.41V310.42H323.91V311.12H324.41V310.51H324.91V310.37H325.41V310.63H325.91V310.28H326.41V310.41H326.92V310.63H327.42V310.95H327.92V311.03H328.92V310.82H329.42V310.22H329.92V310.6H330.42V311.08H330.92V311.15H331.42V311.09H331.92V310.67H332.42V311.08H332.92V310.71H333.42V310.99H333.92V310.16H334.42V310.67H334.92V310.8H335.43V311.17H335.93V310.29H336.43V311.16H336.93V311.14H337.43V310.2H337.93V310.28H338.43V311.16H338.93V310.6H339.43V310.77H339.93V310.15H340.43V310.39H340.93V310.53H341.43V310.61H341.93V310.86H342.43V310.44H342.93V310.8H343.43V311.04H343.94V310.25H344.44V311.06H344.94V310.65H345.44V310.77H345.94V310.3H346.44V310.94H346.94V310.4H347.44V310.66H347.94V310.02H348.44V310.46H348.94V310.36H349.44V310.67H349.94V311.07H350.44V311.04H350.94V310.35H351.44V310.11H351.95V310.82H352.45V311.04H352.95V310.66H353.45V310.97H353.95V310.89H354.45V310.49H354.95V310.16H355.45V311H355.95V310.84H356.95V310.41H357.45V310.29H357.95V310.68H358.45V311.2H358.95V310.15H359.45V310.07H359.95V310.31H360.46V310.73H360.96V310.12H361.46V310.72H361.96V310.08H362.46V310.28H362.96V310.34H363.46V311.13H363.96V311.2H364.46V310.25H364.96V311.14H365.46V310.26H365.96V311.13H366.46V310.58H366.96V310.8H367.46V310.98H367.96V310.65H368.47V310.01H368.97V310.66H369.47V310.78H369.97V310.55H370.47V310.57H370.97V310.83H371.47V310.78H371.97V310.47H372.47V310.37H373.47V311.11H373.97V310.2H374.47V310.42H374.97V310.14H375.47V310.53H375.97V310.41H376.47V310.47H376.98V310.89H377.48V310.6H377.98V310.75H378.48V310.18H378.98V310.32H379.48V310.84H379.98V310.12H380.48V310.41H380.98V310.42H381.48V310.39H381.98V310.57H382.48V310.49H382.98V311.09H383.48V310.44H383.98V310.24H384.48V310.13H384.98V310.66H385.49V311.11H385.99V310.76H386.49V310.48H386.99V310.8H387.49V310.46H387.99V310.96H388.49V310.84H388.99V310.82H389.49V310.36H389.99V310.47H390.49V310.19H390.99V310.53H391.49V310.11H391.99V310.77H392.49V311.16H392.99V310.02H393.5V310.18H394V310.2H394.5V310.78H395V310.9H395.5V310.7H396V310.99H396.5V310.19H397V310.94H397.5V345 Z" fill="#f16800"/>
<path d="M314.4 345V327.02H314.9V326.42H315.4V326.03H315.9V327.68H316.4V326.06H316.9V327.3H317.4V325.93H317.9V326.57H318.4V325.99H318.91V326.84H319.41V326.48H319.91V326.2H320.41V326.91H320.91V327.21H321.41V327.25H321.91V326.38H322.41V326.79H322.91V325.99H323.41V327.57H323.91V327.43H324.41V327.66H324.91V325.97H325.41V326.29H325.91V327.68H326.41V327.57H326.92V327.37H327.42V326.55H327.92V326.65H328.42V326.19H328.92V327H329.42V326.45H329.92V327.36H330.42V326.77H330.92V326.05H331.42V326.32H331.92V326.4H332.42V326.04H332.92V325.92H333.42V326.18H333.92V327.43H334.42V326.16H334.92V327.64H335.43V327.26H335.93V325.91H336.43V326.55H336.93V326.01H337.43V327.62H337.93V325.72H338.43V326.16H338.93V327.59H339.43V327.66H339.93V326.98H340.43V326.77H340.93V327.57H341.43V326.84H341.93V326.61H342.43V325.74H342.93V326.17H343.43V326.05H343.94V327.44H344.44V326.37H344.94V325.74H345.44V325.91H345.94V327.62H346.44V326.72H346.94V326.06H347.44V325.7H347.94V325.82H348.44V325.96H348.94V327.44H349.44V327.62H349.94V326.46H350.44V326.13H350.94V326.8H351.44V326.64H351.95V326.01H352.45V326.1H352.95V326.66H353.45V327.45H353.95V326.5H354.45V326.46H354.95V325.92H355.45V327.4H355.95V326.85H356.45V326.6H356.95V325.96H357.45V326.4H357.95V325.83H358.45V326.67H358.95V327.12H359.45V325.77H359.95V326H360.46V327.41H360.96V327.64H361.46V326.58H361.96V327.63H362.46V325.97H362.96V327.59H363.46V326.25H363.96V326.18H364.46V326.51H364.96V326.73H365.46V327.07H365.96V325.92H366.46V327.69H366.96V326.59H367.46V325.9H367.96V326.72H368.47V327.19H368.97V325.9H369.47V325.74H369.97V327.42H370.47V325.96H370.97V326.64H371.47V326.16H371.97V326.86H372.47V326.84H372.97V325.79H373.47V326.17H373.97V327.35H374.47V326.5H374.97V327.33H375.47V326.72H375.97V327.43H376.47V327.64H376.98V326.71H377.48V326.24H377.98V326.94H378.48V327.26H378.98V326.42H379.48V327.52H379.98V327.17H380.48V327.4H380.98V326.58H381.48V326.6H381.98V326.94H382.48V326.26H382.98V327.44H383.48V326.09H383.98V327.54H384.48V325.79H384.98V327.22H385.49V325.74H385.99V326.85H386.49V327.06H386.99V327.31H387.49V327.46H387.99V326.35H388.49V326.41H388.99V327.21H389.49V325.98H389.99V326.22H390.49V327.18H390.99V325.8H391.49V326.9H391.99V325.92H392.99V327.11H393.5V326.39H394V326.62H394.5V326.58H395V327.12H395.5V326.2H396V326.96H396.5V327.03H397V327.01H397.5V345 Z" fill="#017bbf"/>
<rect x="397.5" y="251.8" width="83.5" height="93.2" fill="#e968ab"/>
<path d="M397.5 345V255.1H398V253.41H398.5V253.04H399V253.57H399.5V255.52H400V253H400.5V252.97H401V253.01H401.5V254.03H402V255.31H402.5V254.22H403V255.06H403.5V253.1H404V253.09H404.5V253.91H405V253.62H405.5V253.42H406V253.33H406.5V255.21H407V253.23H407.5V253.29H408V253.52H408.5V253.32H409V255.68H409.5V253.15H410V253.74H410.5V255.34H411V253.56H411.5V256.08H412V254.76H412.5V253.51H413V255.61H413.5V253.5H414V254.5H414.5V253.13H415V254.6H415.5V253.15H416V253.3H416.5V253.27H417V254.24H417.5V252.9H418V253.5H418.5V253.47H419V253.43H419.5V253.19H420V253.49H420.5V255.98H421V253.04H421.5V253.28H422V255.78H422.5V253.3H423V253.4H423.5V254.35H424V254.42H424.5V253.35H425V253.41H425.5V252.91H426V253.99H426.5V253.13H427V253.12H427.5V253.77H428V253.3H428.5V252.94H429V254.78H429.5V253.43H430V254.24H430.5V255.26H431V253.47H431.5V255.62H432V255.65H432.5V254.5H433V255.33H433.5V254.76H434V255.27H434.5V253.96H435V253.07H435.5V253.18H436V253.59H436.5V253.6H437V253.36H437.5V253.44H438V255.58H438.5V255.43H439V253.4H439.5V253.19H440V254.03H440.5V253.44H441V253.41H441.5V254.43H442V253.74H442.5V254.46H443V253.09H443.5V253.17H444V253.19H444.5V253.22H445V253.47H445.5V254.14H446V252.92H446.5V253.56H447V252.97H447.5V253.97H448V254.96H448.5V253.86H449V253.1H449.5V253.2H450V253.33H450.5V255.78H451V253.59H451.5V254.51H452V254.31H452.5V255.43H453V253.21H453.5V253.49H454V255.26H454.5V254.93H455V254.2H455.5V256.44H456V254.99H456.5V256H457V253.05H457.5V253.39H458V255.51H458.5V253.94H459V255.53H459.5V254.2H460V253.58H460.5V253.19H461V256.27H461.5V253.34H462V254.93H462.5V254.01H463V253.32H463.5V253.08H464V254.25H464.5V253.01H465V253.32H465.5V255.87H466V253.19H466.5V253.75H467V252.92H467.5V253.57H468V253.28H468.5V253.09H469V253.1H469.5V253.3H470V253.26H470.5V253.22H471V254.37H471.5V252.92H472V252.95H472.5V255.46H473V253.33H473.5V253.04H474V253.44H474.5V253.5H475V255.73H475.5V254.33H476V253.41H476.5V252.96H477V253.23H477.5V253.13H478V253.5H478.5V253.3H479V253.41H479.5V255.55H480V253.28H480.5V253.19H481V345 Z" fill="#9b5044"/>
<path d="M397.5 345V303.45H398V303.59H398.5V304.61H399V303.34H399.5V304.81H400V304.32H400.5V303.97H401V303.79H401.5V303.34H402V304.71H402.5V304H403V304.18H403.5V303.85H404V304.52H404.5V303.47H405V304.21H405.5V303.42H406V304.43H406.5V303.5H407V303.85H407.5V304.39H408V303.47H408.5V303.43H409V303.64H409.5V303.87H410V303.95H410.5V303.55H411V304.54H411.5V304.01H412V304.1H412.5V304.68H413V303.54H413.5V304.57H414V303.94H414.5V303.91H415V303.42H415.5V303.68H416V304.21H416.5V303.38H417V303.82H417.5V304.74H418V304.32H418.5V304.64H419V303.41H419.5V304.42H420V304.81H420.5V304.71H421V304.85H421.5V303.95H422V304.86H422.5V304.12H423V304.76H423.5V304.52H424V304.06H424.5V304.81H425V303.44H425.5V304.4H426V304.51H426.5V304.64H427V304.35H427.5V304.23H428V304.03H428.5V303.44H429V304.58H429.5V304.62H430V304.82H430.5V304.54H431V304.99H431.5V303.55H432V303.49H432.5V304.89H433V304.02H433.5V303.93H434V304.66H434.5V304.48H435V304.1H435.5V303.65H436V303.84H436.5V304.77H437V304.93H437.5V303.48H438V303.86H438.5V303.5H439V304.77H439.5V304.74H440V304.65H440.5V303.47H441V305.03H441.5V303.87H442V303.96H442.5V303.81H443V304.72H443.5V304.58H444V303.76H444.5V303.52H445V303.58H445.5V303.8H446V305.04H446.5V304.18H447V304.44H447.5V305.08H448V304.76H448.5V304.27H449V304.14H449.5V303.94H450V305.02H450.5V303.73H451V304.98H451.5V303.9H452V304.67H452.5V303.97H453V304.79H453.5V303.75H454V303.78H454.5V304.4H455V304.27H455.5V305.04H456V304.68H456.5V305.03H457V304.85H457.5V304.01H458V305.05H458.5V304H459V303.73H459.5V303.66H460V304.14H460.5V304.71H461V304.46H461.5V304.52H462V304.36H462.5V303.68H463V303.75H463.5V304.01H464V304.7H464.5V304.56H465V303.84H465.5V305.09H466V303.96H466.5V303.94H467V304.97H467.5V304.89H468V303.87H468.5V304.52H469V305.06H469.5V304.97H470V304.54H470.5V304.38H471V305.06H471.5V304.68H472V304.38H472.5V303.67H473V304.34H473.5V304.13H474V305.06H474.5V304.26H475V305.22H475.5V304.86H476V303.92H476.5V304.46H477V304.13H477.5V304.24H478V304.05H478.5V305.01H479V304.31H479.5V305.24H480V305.06H480.5V304.78H481V345 Z" fill="#b45cc6"/>
<path d="M397.5 345V307.58H398V306.81H398.5V307.36H399V307.08H399.5V306.99H400V307.26H400.5V307.41H401V306.68H401.5V307.49H402V307.29H402.5V307.57H403V307.23H403.5V306.82H404V307.47H404.5V306.7H405V307.24H405.5V307.4H406V307.06H406.5V307.19H407V306.68H407.5V307.33H408V306.73H408.5V307.18H409V306.59H409.5V307.08H410V307.51H410.5V307.2H411V306.87H411.5V306.98H412V307.19H412.5V307.48H413V307.19H413.5V306.87H414V307.37H414.5V307.2H415V307.23H415.5V307.37H416V307.04H416.5V307.32H417V306.83H417.5V307.41H418V306.45H418.5V306.51H419V307H419.5V307.01H420V307.42H420.5V306.74H421V306.69H421.5V307.51H422V306.52H422.5V307.23H423V306.85H423.5V306.95H424V307.1H424.5V306.69H425V307.28H425.5V307.3H426V306.95H426.5V306.43H427V306.7H427.5V306.77H428V307.16H428.5V306.76H429V307.52H429.5V307.42H430V307.56H430.5V306.91H431V307.34H431.5V307.31H432V307.09H432.5V306.78H433V307.55H433.5V306.67H434V306.83H434.5V306.64H435V306.95H435.5V306.88H436V307.16H436.5V307.33H437V306.53H437.5V307.45H438V307.15H438.5V306.78H439V306.46H439.5V306.73H440V307.16H440.5V306.93H441V306.82H441.5V306.88H442V306.48H442.5V306.56H443V306.88H443.5V306.42H444V306.57H444.5V307.37H445V307.29H445.5V306.73H446V306.45H446.5V307.06H447V306.62H447.5V307.44H448V307.54H448.5V307H449V307.33H449.5V307.18H450V307.58H450.5V307.29H451V307.29H451.5V307.51H452V306.94H452.5V307.2H453V306.78H453.5V307.24H454V306.92H454.5V306.45H455V306.61H455.5V306.65H456V307.57H456.5V307.31H457.5V307.5H458V306.72H458.5V307.41H459V306.54H459.5V306.59H460V306.86H460.5V307.5H461V307.48H461.5V306.71H462V306.68H462.5V307.15H463V307.18H463.5V307.03H464V306.64H464.5V306.76H465V306.51H465.5V306.72H466V307.27H466.5V306.99H467V307.56H467.5V306.71H468V307.45H468.5V306.71H469V307.17H469.5V307.38H470V307.57H470.5V307.11H471V306.47H471.5V306.58H472V306.55H472.5V307.2H473V307.58H473.5V306.46H474V306.89H474.5V306.75H475V306.82H475.5V306.47H476V306.87H476.5V307.31H477V306.97H477.5V306.95H478V307.47H478.5V306.63H479V306.52H480V307.07H480.5V307.56H481V345 Z" fill="#df2a1c"/>
<path d="M397.5 345V322.03H398V323.27H398.5V322.4H399V322.65H399.5V323.7H400V322.52H400.5V323H401V322.56H401.5V323.43H402V322.52H402.5V322.08H403V322.46H403.5V323.11H404V323.61H404.5V323.78H405V322.61H405.5V323.04H406V322.87H406.5V323.51H407V323H407.5V322.61H408V323.8H408.5V322.37H409V323.56H409.5V322.9H410V323.76H410.5V323.79H411V323.45H411.5V323.75H412V323.25H412.5V322.22H413V322.43H413.5V322.77H414V323.56H414.5V322.17H415V323.26H415.5V323.69H416V323.39H416.5V322.4H417V323.18H417.5V323.14H418V322.7H418.5V322.25H419V322.26H419.5V322.7H420V323.18H420.5V323.63H421V322.8H421.5V323.2H422V322.66H422.5V322.24H423V322.15H423.5V323.8H424V323.58H424.5V322.22H425V323.24H425.5V322.26H426V322.98H426.5V322.89H427V322.12H427.5V323.71H428V322.46H428.5V322.93H429V322.24H429.5V322.15H430V323.1H430.5V323.65H431V322.91H431.5V322.97H432V323.53H432.5V322.31H433V323.18H433.5V322.25H434V323.66H434.5V322.38H435V323.09H435.5V323.41H436V323.19H436.5V323.21H437V323.39H437.5V322.42H438V323.47H438.5V323.53H439V322.07H439.5V323.73H440V322.12H440.5V322.34H441V322.17H441.5V323.06H442V322.47H442.5V322.51H443V323.58H443.5V322.02H444V322.84H444.5V322.35H445V322.76H445.5V322.42H446V323.61H446.5V322.98H447V322.82H447.5V323.38H448.5V322.02H449V322.19H449.5V323.33H450V323.58H450.5V323.26H451V322.7H451.5V322.47H452V322.48H452.5V323.75H453V322.46H453.5V322.49H454V323.09H454.5V323.38H455V322.89H455.5V322.9H456V323.36H456.5V323.44H457V322.79H457.5V323H458V323.6H458.5V322.7H459V322.47H459.5V322.48H460V323.63H460.5V322.91H461V323.61H461.5V323.03H462V323.74H462.5V322.49H463V323.63H463.5V323.38H464V322.95H464.5V323.78H465V322.13H465.5V323.23H466V322.46H466.5V322.11H467V322.8H467.5V322.5H468V323.7H468.5V323.23H469V322.54H469.5V323.63H470V322.54H470.5V322.27H471V323.47H471.5V322.9H472V322.39H472.5V322.08H473V323.46H473.5V322.53H474V322.31H474.5V322.76H475V322.45H475.5V323.26H476V323.57H476.5V322.89H477V322.74H477.5V323.28H478V323.37H478.5V323.1H479V323.72H479.5V323.68H480V322.89H480.5V323.16H481V345 Z" fill="#02aa4d"/>
<path d="M397.5 345V342.3H398V341.82H398.5V342.34H399V342.06H399.5V341.62H400V342H400.5V341.92H401V342.26H401.5V341.98H402V341.63H402.5V341.65H403V341.67H403.5V342.16H404V341.61H404.5V341.86H405V341.65H405.5V341.87H406V342.33H406.5V342.12H407V342.02H407.5V342.29H408V341.65H408.5V342.14H409V341.64H409.5V341.98H410V341.8H410.5V342.09H411V341.92H411.5V342.06H412V342.15H412.5V342.31H413V341.72H413.5V342.09H414V342.22H414.5V341.71H415V341.81H415.5V341.73H416V342.23H416.5V341.88H417V342.35H417.5V341.93H418V342.08H418.5V341.88H419V342.07H419.5V341.79H420V342H420.5V342.2H421.5V342.19H422V341.75H422.5V342.12H423V341.87H423.5V342.13H424V342.14H424.5V341.65H425V341.94H425.5V342.36H426.5V341.84H427V341.72H427.5V341.78H428V341.61H428.5V342.32H429V342.14H429.5V342.39H430V342.31H430.5V342.01H431V342.32H431.5V341.71H432V341.79H432.5V342.3H433V342.08H433.5V341.8H434V341.88H434.5V341.87H435V341.71H435.5V342.35H436V341.94H436.5V342.24H437V341.85H437.5V341.81H438V341.66H438.5V341.62H439V342.19H439.5V341.84H440V342.35H440.5V341.78H441V342.24H441.5V342.18H442V341.95H442.5V341.94H443V341.82H443.5V342.15H444V342.37H444.5V342.26H445V341.7H445.5V341.96H446V341.84H446.5V341.89H447V342H447.5V341.89H448V342.23H448.5V342.38H449V342.03H449.5V341.93H450V341.89H450.5V341.78H451V341.96H451.5V342.16H452V341.78H452.5V341.87H453V342.26H453.5V342.14H454V341.67H454.5V342.38H455V341.88H455.5V341.7H456V342.27H456.5V341.76H457V341.63H458V341.81H458.5V341.66H459V341.7H459.5V342.1H460V342.14H460.5V342.2H461V342.28H461.5V342.08H462V342.13H462.5V342.08H463V342.03H463.5V342.02H464.5V342.09H465V342.15H465.5V342.37H466V342.18H466.5V341.73H467V341.89H467.5V341.88H468V342.24H468.5V342.3H469V341.77H469.5V342.31H470V341.63H470.5V341.94H471V342.03H471.5V341.87H472.5V342.05H473V341.65H473.5V341.77H474V341.74H474.5V342.21H475V341.76H475.5V341.68H476V342.28H476.5V341.85H477V341.93H477.5V341.6H478V342.08H478.5V342.24H479V341.72H479.5V341.74H480V341.74H480.5V342.1H481V345 Z" fill="#f16800"/>
<path d="M397.5 345V343.25H398V342.91H398.5V343.11H399V343.44H399.5V342.81H400V343.41H400.5V343.1H401V342.95H401.5V342.79H402V343.42H402.5V343.37H403V342.71H403.5V343.18H404V343.24H404.5V343.43H405V342.84H405.5V343.42H406V343.02H406.5V343.16H407V342.79H407.5V343.49H408V343.43H408.5V343.34H409V343.03H409.5V343.08H410V343.46H410.5V343.07H411V343.21H411.5V343.12H412V342.96H412.5V343.25H413V343.46H413.5V343.35H414V342.96H414.5V342.88H415V342.89H415.5V343.12H416V343.27H416.5V343.01H417V343H417.5V342.75H418V343.34H418.5V343.46H419V343.33H419.5V343.28H420V342.8H420.5V343.35H421V343.02H421.5V343.29H422V342.81H422.5V343.23H423V342.84H423.5V343.18H424V343.37H424.5V343.5H425V343.28H425.5V343.49H426V343.27H426.5V342.94H427V343H427.5V343H428V343.48H428.5V343.34H429V343.19H429.5V343.18H430V342.72H430.5V342.82H431V342.81H431.5V342.87H432V342.92H432.5V342.74H433V342.76H433.5V342.8H434V343.04H434.5V343.05H435V343.22H435.5V343.35H436V342.85H436.5V343.2H437V343.3H437.5V343.49H438V342.85H438.5V343.07H439.5V343.4H440V343.44H440.5V343.08H441V343.41H441.5V343.29H442V343.21H442.5V343.38H443V342.71H443.5V343.44H444V342.79H444.5V343.18H445V342.87H445.5V342.81H446V343.13H446.5V343.11H447V343.1H447.5V343.12H448V343.07H448.5V343H449V342.74H449.5V342.84H450V343.3H450.5V342.8H451V342.92H451.5V343.49H452V342.99H452.5V343.01H453V342.7H453.5V342.81H454V343.13H454.5V342.82H455V343.12H455.5V342.82H456V342.96H456.5V343.35H457V342.81H457.5V343.49H458V342.72H458.5V343.1H459V343.05H459.5V343.29H460V343.09H460.5V343.47H461V343.34H461.5V343.38H462V343.18H462.5V343.42H463V343.24H463.5V343.2H464V343.14H464.5V342.96H465V342.99H465.5V343.38H466V342.95H466.5V342.9H467V343.17H467.5V343.35H468V343.15H468.5V343.23H469V343.41H469.5V343.28H470V343.3H470.5V342.84H471V343.07H471.5V342.98H472V343.5H472.5V343.22H473V342.71H473.5V342.84H474V343.22H474.5V343.23H475V343.03H475.5V342.92H476V343H476.5V342.76H477V342.75H477.5V342.89H478V343.5H479V343.43H479.5V343.14H480V343.26H480.5V342.95H481V345 Z" fill="#017bbf"/>
<rect x="481" y="251.8" width="83.8" height="93.2" fill="#e968ab"/>
<path d="M481 345V252.82H481.5V253.16H482V254.77H482.5V252.97H483V253.17H483.49V253.12H483.99V252.89H484.49V252.72H484.99V252.79H485.49V252.69H485.99V253.16H486.49V252.92H486.99V253.04H487.48V252.99H487.98V252.74H488.48V253.1H488.98V254.65H489.48V252.9H489.98V252.88H490.48V252.94H490.98V254.6H491.48V252.73H491.97V253.15H492.47V252.81H492.97V253.04H493.47V254.85H493.97V252.69H494.47V252.67H494.97V252.9H495.47V252.85H496.46V252.87H496.96V252.95H497.46V252.91H497.96V252.69H498.46V253.15H498.96V252.64H499.46V253.1H499.95V252.73H500.45V253.17H500.95V253.18H501.45V253.13H501.95V252.66H502.45V252.99H502.95V252.85H503.45V253.06H503.95V253.15H504.44V252.88H504.94V252.95H505.44V252.82H505.94V252.98H506.44V253.88H506.94V253.65H507.44V252.88H507.94V253.05H508.43V253.29H508.93V252.81H509.43V253.13H509.93V252.93H510.43V253.04H510.93V253.17H511.93V253.07H512.42V252.84H512.92V253.16H513.42V252.86H513.92V253.45H514.42V252.96H514.92V253.11H515.42V254.38H515.92V252.79H516.42V253.56H516.91V253.8H517.41V254.05H517.91V253.17H518.41V253.19H518.91V253.87H519.41V253.08H519.91V253.63H520.41V254.5H520.9V252.77H521.4V254.19H521.9V253.18H522.4V252.83H522.9V253.12H523.4V252.76H523.9V253.11H524.4V252.66H524.9V252.61H525.39V252.67H525.89V252.7H526.39V252.6H526.89V253H527.39V253.25H527.89V253H528.39V252.88H528.89V252.7H529.38V252.89H529.88V253.26H530.38V253.99H530.88V254.27H531.38V252.8H531.88V252.63H532.38V252.73H532.88V253.35H533.38V252.9H533.87V253.04H534.37V253.57H534.87V252.97H535.37V252.77H535.87V253.11H536.37V252.68H536.87V253.2H537.37V252.97H537.86V252.86H538.36V252.78H538.86V254.28H539.36V253.05H539.86V253.19H540.36V253.13H540.86V253.5H541.36V254.24H541.85V252.99H542.35V252.78H542.85V253.07H543.35V253.63H543.85V253.61H544.35V253.17H544.85V252.85H545.35V252.95H545.85V253.09H546.34V253.08H546.84V252.65H547.34V252.81H547.84V252.88H548.34V253.59H548.84V253H549.34V252.81H549.84V253.38H550.33V252.66H550.83V252.68H551.33V252.95H551.83V252.66H552.33V252.91H552.83V253.15H553.33V252.71H553.83V253.4H554.32V253.33H554.82V253.77H555.32V252.76H555.82V252.68H556.32V253.19H556.82V253.23H557.32V252.99H557.82V253.04H558.32V253H558.81V252.88H559.31V252.8H559.81V252.63H560.31V252.75H560.81V253.15H561.31V254.9H561.81V252.94H562.31V252.81H562.8V253.14H563.3V252.79H563.8V252.72H564.3V252.86H564.8V345 Z" fill="#9b5044"/>
<path d="M481 345V315.86H481.5V315.73H482V316.6H482.5V315.63H483V316.93H483.49V315.32H483.99V316.07H484.49V315.97H484.99V316.97H485.49V315.29H485.99V315.56H486.49V315.49H486.99V315.39H487.48V316.09H487.98V316.94H488.48V315.75H488.98V315.94H489.48V315.56H489.98V316.74H490.48V316.27H490.98V315.51H491.48V317.01H491.97V316.61H492.47V316.87H492.97V317H493.47V315.97H493.97V316.8H494.47V316.33H494.97V315.75H495.47V316.62H495.96V315.95H496.46V315.92H496.96V317.43H497.46V317.44H497.96V316.23H498.46V316.27H498.96V317.36H499.46V317.37H499.95V316.64H500.45V317.48H500.95V317.2H501.45V317.16H501.95V316.34H502.45V316.09H502.95V316.59H503.45V317.28H503.95V316.54H504.44V315.98H504.94V317.22H505.44V316.88H505.94V316.44H506.44V316.8H506.94V317.65H507.44V317.38H507.94V317.56H508.43V317.41H508.93V316.72H509.43V317.74H509.93V317.15H510.43V317.12H510.93V317.61H511.43V316.3H511.93V316.77H512.42V317.3H512.92V317.13H513.42V317.43H513.92V316.73H514.42V317.96H514.92V317.4H515.42V317.16H515.92V318.07H516.42V316.66H516.91V316.62H517.41V316.93H517.91V317.58H518.41V317.95H518.91V316.56H519.41V316.53H519.91V317.04H520.41V318.02H520.9V317.21H521.4V317.74H521.9V317.93H522.4V317.98H522.9V317.24H523.4V318.04H523.9V316.98H524.9V318.27H525.39V317.94H525.89V316.79H526.39V318.1H526.89V317.27H527.39V318.61H527.89V318.43H528.39V317.57H528.89V318.67H529.38V317.76H529.88V318.55H530.38V318.64H530.88V318H531.38V317.32H531.88V318.76H532.38V318.27H532.88V318.56H533.38V318.95H533.87V318.25H534.37V318.87H534.87V318.08H535.37V317.57H535.87V319.02H536.37V317.45H536.87V318.64H537.37V318.38H537.86V318.2H538.36V318.61H538.86V318.77H539.36V318.45H539.86V319.03H540.36V319.15H540.86V317.82H541.36V318.77H541.85V317.92H542.35V318.62H542.85V317.76H543.35V319.08H543.85V318.54H544.35V318.78H544.85V319.17H545.35V318.22H545.85V318.95H546.34V319.67H546.84V319.04H547.34V318.06H547.84V318.96H548.34V318.78H548.84V318.93H549.34V319.21H549.84V318.17H550.33V318.63H550.83V319.81H551.33V318.98H551.83V319.23H552.33V319.97H552.83V319.47H553.33V319.31H553.83V318.68H554.32V318.76H554.82V319.44H555.32V319.98H555.82V318.72H556.32V319.35H556.82V318.51H557.32V319.97H557.82V319.63H558.32V319.43H558.81V319.25H559.31V318.76H559.81V318.91H560.31V319.49H560.81V319.04H561.31V320.01H561.81V320.18H562.31V320.34H563.3V319.78H563.8V319.25H564.3V320H564.8V345 Z" fill="#b45cc6"/>
<path d="M481 345V335.95H481.5V335.64H482V336.17H482.5V336.29H483V336.33H483.49V336.2H483.99V336.3H484.49V335.87H484.99V336.28H485.49V336.13H485.99V336.14H486.49V335.65H486.99V335.53H487.48V335.61H487.98V335.93H488.48V335.93H488.98V336H489.48V336.13H489.98V335.55H490.48V336.22H490.98V336.13H491.48V336.35H491.97V336.3H492.47V336.41H492.97V336.45H493.47V335.7H493.97V336.28H494.47V335.62H494.97V336.45H495.47V335.54H495.96V335.56H496.46V336.47H496.96V335.91H497.46V335.81H497.96V336.11H498.46V335.8H498.96V335.76H499.46V335.9H499.95V335.5H500.45V335.91H500.95V335.82H501.45V335.54H501.95V335.61H502.45V335.92H502.95V336.45H503.45V336.13H503.95V336.28H504.44V335.52H504.94V336.03H505.44V335.63H505.94V335.91H506.44V335.65H506.94V335.7H507.44V335.81H507.94V335.62H508.43V336.47H508.93V335.93H509.43V336.14H509.93V336.39H510.43V335.7H510.93V335.87H511.43V335.6H511.93V336.06H512.42V336.04H512.92V335.64H513.42V335.7H513.92V336.16H514.42V335.78H514.92V336.26H515.42V335.74H515.92V336.3H516.42V336.41H516.91V336.18H517.41V336.4H517.91V335.64H518.41V335.87H518.91V336.48H519.41V335.54H519.91V336.13H520.41V335.81H520.9V335.7H521.4V336.06H521.9V335.56H522.4V335.61H522.9V335.85H523.4V335.72H523.9V335.66H524.4V335.51H525.39V335.72H525.89V335.8H526.39V335.55H526.89V335.96H527.39V336.2H527.89V336.06H528.39V335.75H528.89V336.47H529.38V335.55H529.88V336.39H530.38V336.04H530.88V335.73H531.38V336.24H531.88V335.71H532.38V336.02H532.88V335.94H533.38V336.4H533.87V335.62H534.37V335.87H534.87V335.57H535.37V336.04H535.87V335.74H536.37V335.6H536.87V335.81H537.37V336.24H537.86V336.28H538.36V335.99H538.86V336.41H539.36V335.58H539.86V335.88H540.36V336.49H540.86V336.38H541.36V336.48H541.85V335.58H542.35V335.97H542.85V335.89H543.35V335.5H543.85V336.01H544.35V336H544.85V336.15H545.35V335.86H545.85V336H546.34V335.8H546.84V335.58H547.34V336.21H547.84V336.43H548.34V336.04H548.84V335.63H549.34V335.66H549.84V336.34H550.33V335.87H550.83V336.08H551.33V336.21H551.83V335.9H552.33V336.4H552.83V335.67H553.33V336.45H553.83V336.44H554.32V336.49H554.82V336.37H555.32V335.92H555.82V335.59H556.32V336.06H556.82V336.43H557.32V335.62H557.82V335.97H558.32V336.32H558.81V335.54H559.31V335.76H559.81V335.98H560.31V336.19H560.81V336.09H561.31V335.78H561.81V336.13H562.31V335.7H562.8V335.82H563.3V336.1H563.8V335.71H564.3V336.2H564.8V345 Z" fill="#df2a1c"/>
<path d="M481 345V336.91H481.5V337.24H482V336.53H482.5V336.85H483V337.29H483.49V337.23H483.99V336.95H484.49V337.04H484.99V337.16H485.49V337.42H485.99V336.76H486.49V336.89H486.99V336.7H487.48V336.62H487.98V336.72H488.48V336.52H488.98V337.03H489.48V337.17H489.98V336.83H490.48V337.13H490.98V336.65H491.48V337.16H491.97V337.01H492.47V336.61H492.97V336.66H493.47V336.94H493.97V337.27H494.47V336.88H494.97V336.91H495.47V337.49H495.96V336.54H496.46V336.67H496.96V337.34H497.46V337.11H497.96V336.91H498.46V337.46H498.96V336.81H499.46V337.45H499.95V336.7H500.45V337.27H500.95V336.67H501.45V336.58H501.95V337H502.45V336.98H502.95V337.47H503.45V336.59H503.95V337.29H504.44V337.5H504.94V336.52H505.44V337.34H505.94V336.51H506.44V336.71H506.94V336.73H507.44V336.83H507.94V336.58H508.43V336.56H508.93V336.81H509.43V336.59H509.93V336.7H510.43V336.92H510.93V337.34H511.43V336.59H511.93V336.68H512.42V336.74H512.92V336.74H513.42V337.05H513.92V337.49H514.42V336.6H514.92V336.94H515.42V337.01H515.92V337.22H516.42V337.17H516.91V336.87H517.41V337.43H517.91V336.94H518.41V337H518.91V336.97H519.41V337.37H519.91V337.28H520.41V336.6H520.9V337.31H521.4V336.81H521.9V336.62H522.4V337.17H522.9V337.22H523.4V336.66H523.9V336.6H524.4V336.54H524.9V337.39H525.39V337.09H525.89V336.77H526.39V337.11H526.89V337.48H527.39V336.68H527.89V336.63H528.39V336.66H528.89V337.25H529.38V337.39H529.88V336.99H530.38V336.84H530.88V337.4H531.38V336.8H531.88V337.21H532.38V337.17H532.88V337.41H533.38V337.3H533.87V337.39H534.37V336.86H534.87V337.39H535.37V337.41H535.87V336.5H536.37V337.42H536.87V336.59H537.37V336.76H537.86V337.17H538.36V337.49H538.86V336.89H539.36V336.98H539.86V336.92H540.36V336.75H540.86V337.42H541.36V337.15H541.85V336.53H542.35V336.81H542.85V337.42H543.35V337.48H543.85V337.08H544.35V337.32H544.85V337.18H545.35V336.72H545.85V337.19H546.34V336.72H546.84V337.46H547.34V337.08H547.84V337.29H548.34V336.86H548.84V336.99H549.34V336.61H549.84V337.39H550.33V337.06H550.83V336.74H551.33V336.74H551.83V337.03H552.33V336.54H552.83V336.87H553.33V337.29H553.83V336.53H554.32V337.3H554.82V336.78H555.32V337.37H555.82V337.28H556.32V336.76H556.82V337.1H557.32V337.19H557.82V337.01H558.32V337.15H558.81V336.5H559.31V337.27H559.81V337H560.31V337.14H560.81V336.88H561.31V336.52H561.81V337.33H562.31V336.9H562.8V336.79H563.3V337.05H563.8V337.46H564.3V337.29H564.8V345 Z" fill="#02aa4d"/>
<path d="M481 345V339.89H481.5V339.47H482V339.65H482.5V339.61H483V339.73H483.49V339.12H483.99V339.84H484.49V339.89H484.99V340.08H485.49V339.24H485.99V339.31H486.49V339.15H486.99V339.9H487.48V339.62H487.98V339.32H488.48V339.47H488.98V339.67H489.48V339.97H489.98V339.31H490.48V339.37H490.98V340.25H491.48V339.87H491.97V339.36H492.47V339.13H492.97V339.32H493.47V339.32H493.97V339.6H494.47V339.33H494.97V340.04H495.47V339.52H495.96V339.58H496.46V340.16H496.96V339.16H497.46V339.8H497.96V339.2H498.46V339.63H498.96V339.88H499.46V339.64H499.95V339.2H500.45V339.99H500.95V339.6H501.45V339.1H501.95V339.53H502.45V340.21H502.95V339.28H503.45V339.42H503.95V339.58H504.44V339.59H504.94V339.15H505.44V339.48H505.94V340.22H506.44V340.15H506.94V340.22H507.44V339.4H507.94V339.16H508.43V339.52H508.93V340.28H509.43V339.26H509.93V339.29H510.43V339.45H510.93V340.07H511.43V339.9H511.93V339.94H512.42V339.46H512.92V340.21H513.42V339.18H513.92V340.07H514.42V339.54H514.92V339.43H515.42V340.14H515.92V339.4H516.42V339.88H516.91V339.73H517.41V339.29H517.91V340.07H518.41V340.3H518.91V339.69H519.41V340.04H519.91V339.56H520.41V339.7H520.9V339.96H521.4V339.86H521.9V339.5H522.4V339.25H522.9V340.12H523.4V339.16H523.9V339.56H524.4V340.04H524.9V339.1H525.39V340.04H525.89V339.81H526.39V339.35H526.89V339.71H527.39V339.74H527.89V339.72H528.39V339.42H528.89V339.72H529.38V339.37H529.88V339.22H530.38V339.81H530.88V340.23H531.38V339.66H531.88V339.23H532.38V339.79H532.88V339.4H533.38V339.92H533.87V340.07H534.37V339.89H534.87V339.68H535.37V339.99H535.87V339.76H536.37V339.84H536.87V340.24H537.37V339.63H537.86V339.92H538.36V339.33H538.86V339.47H539.36V339.52H539.86V339.89H540.36V339.78H540.86V339.43H541.36V340.03H541.85V339.56H542.35V340.15H542.85V339.7H543.35V339.19H543.85V339.21H544.35V340.2H544.85V339.17H545.35V339.88H545.85V339.97H546.34V340.23H546.84V339.35H547.34V339.39H547.84V340.1H548.34V339.32H548.84V339.15H549.34V339.26H549.84V340.16H550.83V339.99H551.33V339.18H552.33V339.37H552.83V339.55H553.33V340.02H553.83V339.77H554.32V339.57H554.82V340.27H555.32V339.84H555.82V340.3H556.32V340.25H556.82V339.5H557.32V339.13H557.82V339.81H558.32V339.99H558.81V340.25H559.31V339.67H559.81V340.28H560.31V340.25H560.81V339.38H561.31V339.63H561.81V339.73H562.31V339.11H562.8V339.16H563.3V339.42H563.8V340.24H564.3V339.91H564.8V345 Z" fill="#f16800"/>
<path d="M481 345V341.46H481.5V341.99H482V341.83H482.5V341.84H483V341.43H483.49V342.04H483.99V341.7H484.49V341.6H484.99V341.43H485.49V341.89H485.99V341.21H486.49V341.66H486.99V342.12H487.48V342.04H487.98V341.87H488.48V341.49H488.98V341.79H489.48V341.51H489.98V341.91H490.48V341.6H490.98V341.89H491.48V341.94H491.97V341.78H492.47V342.13H492.97V341.81H493.47V341.29H493.97V341.95H494.47V341.94H494.97V341.79H495.47V341.85H495.96V342.05H496.46V341.4H496.96V342.1H497.46V341.5H497.96V341.89H498.46V341.92H498.96V342.15H499.46V342.04H499.95V341.62H500.45V342.03H500.95V341.49H501.45V341.22H501.95V341.2H502.45V341.81H502.95V341.84H503.45V342.14H503.95V341.54H504.44V341.61H504.94V341.46H505.44V341.62H505.94V342.08H506.44V341.81H506.94V341.47H507.44V341.24H507.94V341.83H508.43V341.22H508.93V342.01H509.43V342.15H509.93V341.42H510.43V341.3H510.93V341.43H511.43V341.36H511.93V341.83H512.42V341.92H512.92V342.01H513.42V341.8H513.92V341.27H514.42V341.54H514.92V341.63H515.42V341.56H515.92V341.81H516.42V342.02H516.91V342.03H517.41V341.76H517.91V341.2H518.41V341.5H518.91V342.16H519.41V341.92H519.91V341.47H520.41V341.96H520.9V341.59H521.4V341.44H521.9V341.39H522.4V341.96H522.9V341.32H523.4V341.48H523.9V341.33H524.4V341.87H524.9V341.42H525.39V341.26H525.89V341.21H526.39V342.01H526.89V341.87H527.39V341.52H527.89V341.31H528.39V341.86H528.89V341.78H529.38V342.11H529.88V341.7H530.38V341.48H530.88V341.35H531.38V341.51H531.88V342.09H532.38V342.06H532.88V342.08H533.38V341.55H533.87V342.14H534.37V342.2H534.87V341.86H535.37V341.26H535.87V341.85H536.37V341.48H536.87V341.3H537.37V341.52H537.86V341.59H538.36V341.73H538.86V341.94H539.36V341.95H539.86V341.38H540.36V341.72H540.86V341.22H541.36V341.64H541.85V341.5H542.35V341.38H542.85V341.28H543.35V341.22H543.85V341.56H544.35V341.23H544.85V341.91H545.85V341.28H546.34V342.02H546.84V342.08H547.34V342H547.84V342.06H548.34V342.07H548.84V341.63H549.34V341.48H549.84V342.04H550.33V342.02H550.83V341.27H551.33V341.75H551.83V341.78H552.33V342.19H552.83V342.02H553.33V341.96H553.83V342.13H554.32V342.18H554.82V341.97H555.32V341.24H555.82V341.59H556.32V342.12H556.82V341.28H557.32V342.17H557.82V342.1H558.32V341.99H558.81V341.56H559.31V341.8H559.81V341.53H560.31V341.62H560.81V341.89H561.31V342.1H561.81V341.84H562.31V341.22H562.8V341.75H563.3V341.61H563.8V342.15H564.3V341.39H564.8V345 Z" fill="#017bbf"/>
<line x1="49.3" y1="49.3" x2="49.3" y2="158.8" stroke="#444" stroke-width="0.8"/>
<line x1="204.4" y1="49.3" x2="204.4" y2="158.8" stroke="#444" stroke-width="0.8"/>
<line x1="367.3" y1="49.3" x2="367.3" y2="158.8" stroke="#444" stroke-width="0.8"/>
<line x1="565.0" y1="49.3" x2="565.0" y2="158.8" stroke="#6f7f79" stroke-width="1.4" opacity="0.6"/>
<rect x="27.3" y="251.8" width="245.3" height="93.2" fill="none" stroke="#222" stroke-width="1.3"/>
<rect x="314.4" y="251.8" width="250.4" height="93.2" fill="none" stroke="#222" stroke-width="1.3"/>
<line x1="109.2" y1="251.8" x2="109.2" y2="345" stroke="#222" stroke-width="1.3"/>
<line x1="191" y1="251.8" x2="191" y2="345" stroke="#222" stroke-width="1.3"/>
<line x1="397.5" y1="251.8" x2="397.5" y2="345" stroke="#222" stroke-width="1.3"/>
<line x1="481" y1="251.8" x2="481" y2="345" stroke="#222" stroke-width="1.3"/>
<rect x="574.9" y="52.3" width="15.2" height="5.1" fill="#87988d"/>
<rect x="574.9" y="63.28" width="15.2" height="5.1" fill="#b46165"/>
<rect x="574.9" y="74.26" width="15.2" height="5.1" fill="#5f90c1"/>
<rect x="574.9" y="85.24" width="15.2" height="5.1" fill="#fdd571"/>
<rect x="574.9" y="96.22" width="15.2" height="5.1" fill="#9a88ac"/>
<rect x="574.9" y="107.2" width="15.2" height="5.1" fill="#d08081"/>
<rect x="574.9" y="118.18" width="15.2" height="5.1" fill="#d8af5c"/>
<rect x="574.9" y="129.16" width="15.2" height="5.1" fill="#6cb87d"/>
<rect x="574.9" y="140.14" width="15.2" height="5.1" fill="#e6a3c3"/>
<rect x="574.9" y="151.12" width="15.2" height="5.1" fill="#a874b4"/>
<rect x="584.1" y="261.1" width="15" height="5.9" fill="#017bbf"/>
<rect x="584.1" y="272.51" width="15" height="5.9" fill="#f16800"/>
<rect x="584.1" y="283.92" width="15" height="5.9" fill="#02aa4d"/>
<rect x="584.1" y="295.33" width="15" height="5.9" fill="#df2a1c"/>
<rect x="584.1" y="306.74" width="15" height="5.9" fill="#b45cc6"/>
<rect x="584.1" y="318.15" width="15" height="5.9" fill="#a45043"/>
<rect x="584.1" y="329.56" width="15" height="5.9" fill="#e968ab"/>
<text x="85.95" y="22.8" font-size="15.0" fill="#111" textLength="447.25" lengthAdjust="spacingAndGlyphs">Human Microbiome Project Phylum-Level Sample Composition</text>
<text x="108.2" y="44.7" font-size="12.0" fill="#111" textLength="39.88" lengthAdjust="spacingAndGlyphs">Plaque</text>
<text x="274.7" y="44.7" font-size="12.0" fill="#111" textLength="40.74" lengthAdjust="spacingAndGlyphs">Tongue</text>
<text x="452.4" y="44.7" font-size="12.0" fill="#111" textLength="29.96" lengthAdjust="spacingAndGlyphs">Stool</text>
<text x="267.3" y="172.2" font-size="12.4" fill="#111" textLength="44.22" lengthAdjust="spacingAndGlyphs">Sample</text>
<text x="577.65" y="44.8" font-size="10.4" fill="#111" textLength="35.01" lengthAdjust="spacingAndGlyphs" font-weight="bold">Phylum</text>
<text x="230.88" y="206.8" font-size="15.3" fill="#111" textLength="132.92" lengthAdjust="spacingAndGlyphs">MiCRM Simulation</text>
<text x="31.89" y="228.6" font-size="13.0" fill="#111" textLength="238.58" lengthAdjust="spacingAndGlyphs">Metabolically distinct simple environments</text>
<text x="312.89" y="228.7" font-size="13.0" fill="#111" textLength="249.09" lengthAdjust="spacingAndGlyphs">Metabolically distinct complex environments</text>
<text x="33.84" y="247.8" font-size="12.5" fill="#111" textLength="70.09" lengthAdjust="spacingAndGlyphs">Site 1 (A+B)</text>
<text x="114.52" y="247.8" font-size="12.5" fill="#111" textLength="71.57" lengthAdjust="spacingAndGlyphs">Site 2 (C+D)</text>
<text x="196.11" y="247.8" font-size="12.5" fill="#111" textLength="70.01" lengthAdjust="spacingAndGlyphs">Site 3 (E+F)</text>
<text x="323.31" y="247.8" font-size="12.5" fill="#111" textLength="69.99" lengthAdjust="spacingAndGlyphs">Site 1 (A+B)</text>
<text x="401.75" y="247.8" font-size="12.5" fill="#111" textLength="70.81" lengthAdjust="spacingAndGlyphs">Site 2 (C+D)</text>
<text x="487.14" y="247.8" font-size="12.5" fill="#111" textLength="68.48" lengthAdjust="spacingAndGlyphs">Site 3 (E+F)</text>
<text x="124.29" y="358.5" font-size="12.6" fill="#111" textLength="44.55" lengthAdjust="spacingAndGlyphs">Sample</text>
<text x="426.64" y="358.5" font-size="12.6" fill="#111" textLength="44.24" lengthAdjust="spacingAndGlyphs">Sample</text>
<text x="561.04" y="241.7" font-size="9.6" fill="#111" textLength="109.46" lengthAdjust="spacingAndGlyphs" font-weight="bold">Resource specialization</text>
<text x="595.38" y="251.5" font-size="9.6" fill="#111" textLength="39.68" lengthAdjust="spacingAndGlyphs" font-weight="bold">of family</text>
<text x="595.51" y="57.6" font-size="7.6" fill="#383838" textLength="35.9" lengthAdjust="spacingAndGlyphs">Firmicutes</text>
<text x="596.46" y="68.5" font-size="7.6" fill="#383838" textLength="48.61" lengthAdjust="spacingAndGlyphs">Actinobacteria</text>
<text x="595.49" y="79.4" font-size="7.6" fill="#383838" textLength="47.7" lengthAdjust="spacingAndGlyphs">Bacteroidetes</text>
<text x="595.51" y="90.4" font-size="7.6" fill="#383838" textLength="49.39" lengthAdjust="spacingAndGlyphs">Proteobacteria</text>
<text x="595.79" y="101.4" font-size="7.6" fill="#383838" textLength="44.39" lengthAdjust="spacingAndGlyphs">Fusobacteria</text>
<text x="595.42" y="112.4" font-size="7.6" fill="#383838" textLength="40.38" lengthAdjust="spacingAndGlyphs">Tenericutes</text>
<text x="595.78" y="123.4" font-size="7.6" fill="#383838" textLength="44.92" lengthAdjust="spacingAndGlyphs">Spirochaetes</text>
<text x="595.96" y="134.3" font-size="7.6" fill="#383838" textLength="49.04" lengthAdjust="spacingAndGlyphs">Cyanobacteria</text>
<text x="596.14" y="145.3" font-size="7.6" fill="#383838" textLength="55.02" lengthAdjust="spacingAndGlyphs">Verrucomicrobia</text>
<text x="595.42" y="156.3" font-size="7.6" fill="#383838" textLength="16.02" lengthAdjust="spacingAndGlyphs">TM7</text>
<text x="602.12" y="266.8" font-size="10.3" fill="#1a1a1a" textLength="32.92" lengthAdjust="spacingAndGlyphs">Class A</text>
<text x="602.12" y="278.2" font-size="10.3" fill="#1a1a1a" textLength="33.56" lengthAdjust="spacingAndGlyphs">Class B</text>
<text x="602.12" y="289.7" font-size="10.3" fill="#1a1a1a" textLength="34.32" lengthAdjust="spacingAndGlyphs">Class C</text>
<text x="602.12" y="301.2" font-size="10.3" fill="#1a1a1a" textLength="34.18" lengthAdjust="spacingAndGlyphs">Class D</text>
<text x="602.12" y="312.7" font-size="10.3" fill="#1a1a1a" textLength="33.5" lengthAdjust="spacingAndGlyphs">Class E</text>
<text x="602.12" y="324.1" font-size="10.3" fill="#1a1a1a" textLength="67.42" lengthAdjust="spacingAndGlyphs">Class F (waste)</text>
<text x="602.12" y="335.6" font-size="10.3" fill="#1a1a1a" textLength="49.28" lengthAdjust="spacingAndGlyphs">Generalists</text>
<text x="40.8" y="160.8" font-size="12.5" fill="#111" textLength="113.1" lengthAdjust="spacingAndGlyphs" transform="rotate(-90 40.8 160.8)">Relative abundance</text>
<text x="19.3" y="355.56" font-size="12.6" fill="#111" textLength="113.3" lengthAdjust="spacingAndGlyphs" transform="rotate(-90 19.3 355.56)">Relative abundance</text>
<text x="307.3" y="352.83" font-size="12.6" fill="#111" textLength="113.57" lengthAdjust="spacingAndGlyphs" transform="rotate(-90 307.3 352.83)">Relative abundance</text>
</svg>
</body></html>
